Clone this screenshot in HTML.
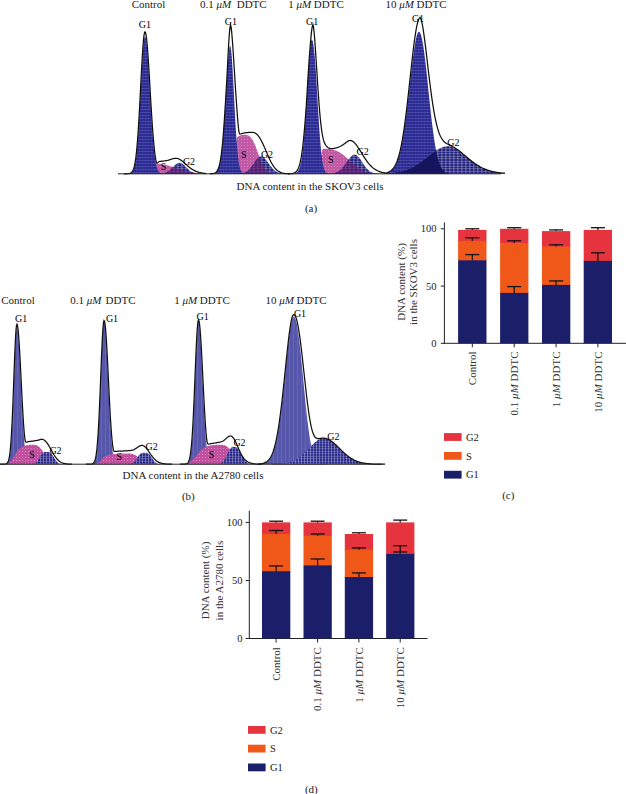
<!DOCTYPE html>
<html><head><meta charset="utf-8"><style>
html,body{margin:0;padding:0;background:#fff;width:626px;height:794px;overflow:hidden}
svg{display:block}
text{font-family:"Liberation Serif",serif;fill:#1a1a1a}
.lb{fill:#000}
.rt{fill:#333}
</style></head><body>
<svg width="626" height="794" viewBox="0 0 626 794">

<defs>
<pattern id="g1a" width="3" height="3" patternUnits="userSpaceOnUse">
  <rect width="3" height="3" fill="#282890"/>
  <rect y="1" width="3" height="0.7" fill="#6464bc" opacity="0.7"/>
  <rect x="1.5" width="0.6" height="3" fill="#5858b4" opacity="0.5"/>
</pattern>
<pattern id="g2a" width="4" height="2.5" patternUnits="userSpaceOnUse">
  <rect width="4" height="2.5" fill="#1e1e7a"/>
  <rect y="1" width="4" height="0.6" fill="#d8d8f0" opacity="0.55"/>
  <rect x="1.5" width="0.8" height="2.5" fill="#d8d8f0" opacity="0.55"/>
</pattern>
<pattern id="sa" width="3" height="3" patternUnits="userSpaceOnUse">
  <rect width="3" height="3" fill="#c05aa4"/>
  <rect x="1" y="1" width="1" height="1" fill="#e4a0d4" opacity="0.6"/>
</pattern>
<pattern id="ov1a" width="4" height="4" patternUnits="userSpaceOnUse">
  <rect width="4" height="4" fill="#15155e"/>
</pattern>
<pattern id="ov2a" width="4" height="2.5" patternUnits="userSpaceOnUse">
  <rect width="4" height="2.5" fill="#4e1c70"/>
  <rect y="1" width="4" height="0.6" fill="#a060b0" opacity="0.5"/>
  <rect x="1.5" width="0.8" height="2.5" fill="#a060b0" opacity="0.5"/>
</pattern>
<pattern id="g1b" width="4" height="4" patternUnits="userSpaceOnUse">
  <rect width="4" height="4" fill="#5656aa"/>
  <rect x="1" width="1" height="4" fill="#6c6cba" opacity="0.7"/>
</pattern>
<pattern id="g2b" width="3" height="2.5" patternUnits="userSpaceOnUse">
  <rect width="3" height="2.5" fill="#28288a"/>
  <rect y="1" width="3" height="0.6" fill="#dcdcf4" opacity="0.42"/>
  <rect x="1" width="0.7" height="2.5" fill="#dcdcf4" opacity="0.5"/>
</pattern>
<pattern id="sb" width="3" height="3" patternUnits="userSpaceOnUse">
  <rect width="3" height="3" fill="#c0509e"/>
  <rect x="1" y="1" width="1" height="1" fill="#e8a8d8" opacity="0.6"/>
</pattern>
<pattern id="ov1b" width="3" height="2.5" patternUnits="userSpaceOnUse">
  <rect width="3" height="2.5" fill="#2a2a8e"/>
  <rect y="1" width="3" height="0.6" fill="#dcdcf4" opacity="0.5"/>
  <rect x="1" width="0.7" height="2.5" fill="#dcdcf4" opacity="0.55"/>
</pattern>
</defs>

<rect width="626" height="794" fill="#fff"/>
<path d="M124 173.8L124 173.8L124.5 173.8L125 173.8L125.5 173.8L126 173.8L126.5 173.8L127 173.8L127.5 173.8L128 173.8L128.5 173.8L129 173.8L129.5 173.8L130 173.8L130.5 173.8L131 173.8L131.5 173.8L132 173.8L132.5 173.8L133 173.8L133.5 173.8L134 173.8L134.5 173.8L135 173.8L135.5 173.8L136 173.8L136.5 173.8L137 173.8L137.5 173.8L138 173.8L138.5 173.8L139 173.8L139.5 173.8L140 173.8L140.5 173.8L141 173.8L141.5 173.8L142 173.8L142.5 173.8L143 173.8L143.5 173.8L144 173.8L144.5 173.8L145 173.8L145.5 173.8L146 173.8L146.5 173.8L147 173.8L147.5 173.8L148 173.8L148.5 173.8L149 173.8L149.5 173.8L150 173.8L150.5 173.8L151 173.8L151.5 173.8L152 173.8L152.5 173.8L153 173.7L153.5 173.6L154 173L154.5 171.6L155 168.8L155.5 166L156 164.6L156.5 164L157 163.9L157.5 163.8L158 163.8L158.5 163.8L159 163.9L159.5 163.9L160 163.9L160.5 164L161 164L161.5 164.1L162 164.2L162.5 164.3L163 164.3L163.5 164.4L164 164.5L164.5 164.6L165 164.7L165.5 164.9L166 165L166.5 165.1L167 165.2L167.5 165.4L168 165.5L168.5 165.6L169 165.8L169.5 165.9L170 166.1L170.5 166.3L171 166.4L171.5 166.6L172 166.7L172.5 166.9L173 167.1L173.5 167.2L174 167.4L174.5 167.6L175 167.7L175.5 167.9L176 168.1L176.5 168.2L177 168.4L177.5 168.6L178 168.7L178.5 168.9L179 169.1L179.5 169.2L180 169.4L180.5 169.5L181 169.7L181.5 169.8L182 170L182.5 170.1L183 170.3L183.5 170.4L184 170.6L184.5 170.7L185 170.8L185.5 170.9L186 171.1L186.5 171.2L187 171.3L187.5 171.4L188 171.5L188.5 171.6L189 171.7L189.5 171.8L190 171.9L190.5 172L191 172.1L191.5 172.2L192 172.3L192.5 172.4L193 172.4L193.5 172.5L194 172.6L194.5 172.7L195 172.7L195.5 172.8L196 172.8L196.5 172.9L197 173L197.5 173L198 173.1L198.5 173.1L199 173.1L199.5 173.2L200 173.2L200.5 173.3L201 173.3L201.5 173.3L202 173.4L202.5 173.4L203 173.4L203.5 173.4L204 173.5L204.5 173.5L205 173.5L205.5 173.5L206 173.6L206 173.8Z" fill="url(#sa)"/>
<path d="M124 173.8L124 173.8L124.5 173.8L125 173.8L125.5 173.8L126 173.8L126.5 173.8L127 173.8L127.5 173.8L128 173.7L128.5 173.7L129 173.7L129.5 173.6L130 173.5L130.5 173.3L131 173.1L131.5 172.8L132 172.4L132.5 171.8L133 171L133.5 170L134 168.6L134.5 166.8L135 164.6L135.5 161.8L136 158.4L136.5 154.3L137 149.4L137.5 143.8L138 137.3L138.5 129.9L139 121.9L139.5 113.1L140 103.9L140.5 94.3L141 84.6L141.5 75.1L142 66L142.5 57.7L143 50.4L143.5 44.4L144 40L144.5 37.2L145 36.3L145.5 37L146 39.3L146.5 42.9L147 47.7L147.5 53.7L148 60.7L148.5 68.4L149 76.6L149.5 85.2L150 93.9L150.5 102.5L151 110.8L151.5 118.8L152 126.3L152.5 133.2L153 139.5L153.5 145.1L154 150.1L154.5 154.4L155 158.1L155.5 161.2L156 163.8L156.5 166L157 167.8L157.5 169.2L158 170.3L158.5 171.2L159 171.8L159.5 172.4L160 172.8L160.5 173.1L161 173.3L161.5 173.4L162 173.5L162.5 173.6L163 173.7L163.5 173.7L164 173.7L164.5 173.8L165 173.8L165.5 173.8L166 173.8L166.5 173.8L167 173.8L167.5 173.8L168 173.8L168.5 173.8L169 173.8L169.5 173.8L170 173.8L170.5 173.8L171 173.8L171.5 173.8L172 173.8L172.5 173.8L173 173.8L173.5 173.8L174 173.8L174.5 173.8L175 173.8L175.5 173.8L176 173.8L176.5 173.8L177 173.8L177.5 173.8L178 173.8L178.5 173.8L179 173.8L179.5 173.8L180 173.8L180.5 173.8L181 173.8L181.5 173.8L182 173.8L182.5 173.8L183 173.8L183.5 173.8L184 173.8L184.5 173.8L185 173.8L185.5 173.8L186 173.8L186.5 173.8L187 173.8L187.5 173.8L188 173.8L188.5 173.8L189 173.8L189.5 173.8L190 173.8L190.5 173.8L191 173.8L191.5 173.8L192 173.8L192.5 173.8L193 173.8L193.5 173.8L194 173.8L194.5 173.8L195 173.8L195.5 173.8L196 173.8L196.5 173.8L197 173.8L197.5 173.8L198 173.8L198.5 173.8L199 173.8L199.5 173.8L200 173.8L200.5 173.8L201 173.8L201.5 173.8L202 173.8L202.5 173.8L203 173.8L203.5 173.8L204 173.8L204.5 173.8L205 173.8L205.5 173.8L206 173.8L206 173.8Z" fill="url(#g1a)"/>
<path d="M124 173.8L124 173.8L124.5 173.8L125 173.8L125.5 173.8L126 173.8L126.5 173.8L127 173.8L127.5 173.8L128 173.8L128.5 173.8L129 173.8L129.5 173.8L130 173.8L130.5 173.8L131 173.8L131.5 173.8L132 173.8L132.5 173.8L133 173.8L133.5 173.8L134 173.8L134.5 173.8L135 173.8L135.5 173.8L136 173.8L136.5 173.8L137 173.8L137.5 173.8L138 173.8L138.5 173.8L139 173.8L139.5 173.8L140 173.8L140.5 173.8L141 173.8L141.5 173.8L142 173.8L142.5 173.8L143 173.8L143.5 173.8L144 173.8L144.5 173.8L145 173.8L145.5 173.8L146 173.8L146.5 173.8L147 173.8L147.5 173.8L148 173.8L148.5 173.8L149 173.8L149.5 173.8L150 173.8L150.5 173.8L151 173.8L151.5 173.8L152 173.8L152.5 173.8L153 173.8L153.5 173.8L154 173.8L154.5 173.8L155 173.8L155.5 173.8L156 173.8L156.5 173.8L157 173.8L157.5 173.8L158 173.8L158.5 173.7L159 173.7L159.5 173.7L160 173.7L160.5 173.6L161 173.6L161.5 173.6L162 173.5L162.5 173.4L163 173.4L163.5 173.3L164 173.2L164.5 173L165 172.9L165.5 172.7L166 172.5L166.5 172.3L167 172.1L167.5 171.8L168 171.5L168.5 171.2L169 170.8L169.5 170.4L170 170L170.5 169.6L171 169.1L171.5 168.6L172 168.1L172.5 167.6L173 167.1L173.5 166.6L174 166.1L174.5 165.6L175 165.1L175.5 164.7L176 164.3L176.5 163.9L177 163.6L177.5 163.3L178 163.1L178.5 162.9L179 162.8L179.5 162.8L180 162.8L180.5 162.9L181 163.1L181.5 163.3L182 163.6L182.5 163.9L183 164.3L183.5 164.7L184 165.1L184.5 165.6L185 166.1L185.5 166.6L186 167.1L186.5 167.6L187 168.1L187.5 168.6L188 169.1L188.5 169.6L189 170L189.5 170.4L190 170.8L190.5 171.2L191 171.5L191.5 171.8L192 172.1L192.5 172.3L193 172.5L193.5 172.7L194 172.9L194.5 173L195 173.2L195.5 173.3L196 173.4L196.5 173.4L197 173.5L197.5 173.6L198 173.6L198.5 173.6L199 173.7L199.5 173.7L200 173.7L200.5 173.7L201 173.8L201.5 173.8L202 173.8L202.5 173.8L203 173.8L203.5 173.8L204 173.8L204.5 173.8L205 173.8L205.5 173.8L206 173.8L206 173.8Z" fill="url(#g2a)"/>
<path d="M124 173.8L124 173.8L124.5 173.8L125 173.8L125.5 173.8L126 173.8L126.5 173.8L127 173.8L127.5 173.8L128 173.8L128.5 173.8L129 173.8L129.5 173.8L130 173.8L130.5 173.8L131 173.8L131.5 173.8L132 173.8L132.5 173.8L133 173.8L133.5 173.8L134 173.8L134.5 173.8L135 173.8L135.5 173.8L136 173.8L136.5 173.8L137 173.8L137.5 173.8L138 173.8L138.5 173.8L139 173.8L139.5 173.8L140 173.8L140.5 173.8L141 173.8L141.5 173.8L142 173.8L142.5 173.8L143 173.8L143.5 173.8L144 173.8L144.5 173.8L145 173.8L145.5 173.8L146 173.8L146.5 173.8L147 173.8L147.5 173.8L148 173.8L148.5 173.8L149 173.8L149.5 173.8L150 173.8L150.5 173.8L151 173.8L151.5 173.8L152 173.8L152.5 173.8L153 173.8L153.5 173.8L154 173.8L154.5 173.8L155 173.8L155.5 173.8L156 173.8L156.5 173.8L157 173.8L157.5 173.8L158 173.8L158.5 173.7L159 173.7L159.5 173.7L160 173.7L160.5 173.6L161 173.6L161.5 173.6L162 173.5L162.5 173.6L163 173.7L163.5 173.7L164 173.7L164.5 173.8L165 173.8L165.5 173.8L166 173.8L166.5 173.8L167 173.8L167.5 173.8L168 173.8L168.5 173.8L169 173.8L169.5 173.8L170 173.8L170.5 173.8L171 173.8L171.5 173.8L172 173.8L172.5 173.8L173 173.8L173.5 173.8L174 173.8L174.5 173.8L175 173.8L175.5 173.8L176 173.8L176.5 173.8L177 173.8L177.5 173.8L178 173.8L178.5 173.8L179 173.8L179.5 173.8L180 173.8L180.5 173.8L181 173.8L181.5 173.8L182 173.8L182.5 173.8L183 173.8L183.5 173.8L184 173.8L184.5 173.8L185 173.8L185.5 173.8L186 173.8L186.5 173.8L187 173.8L187.5 173.8L188 173.8L188.5 173.8L189 173.8L189.5 173.8L190 173.8L190.5 173.8L191 173.8L191.5 173.8L192 173.8L192.5 173.8L193 173.8L193.5 173.8L194 173.8L194.5 173.8L195 173.8L195.5 173.8L196 173.8L196.5 173.8L197 173.8L197.5 173.8L198 173.8L198.5 173.8L199 173.8L199.5 173.8L200 173.8L200.5 173.8L201 173.8L201.5 173.8L202 173.8L202.5 173.8L203 173.8L203.5 173.8L204 173.8L204.5 173.8L205 173.8L205.5 173.8L206 173.8L206 173.8Z" fill="url(#ov1a)"/>
<path d="M124 173.8L124 173.8L124.5 173.8L125 173.8L125.5 173.8L126 173.8L126.5 173.8L127 173.8L127.5 173.8L128 173.8L128.5 173.8L129 173.8L129.5 173.8L130 173.8L130.5 173.8L131 173.8L131.5 173.8L132 173.8L132.5 173.8L133 173.8L133.5 173.8L134 173.8L134.5 173.8L135 173.8L135.5 173.8L136 173.8L136.5 173.8L137 173.8L137.5 173.8L138 173.8L138.5 173.8L139 173.8L139.5 173.8L140 173.8L140.5 173.8L141 173.8L141.5 173.8L142 173.8L142.5 173.8L143 173.8L143.5 173.8L144 173.8L144.5 173.8L145 173.8L145.5 173.8L146 173.8L146.5 173.8L147 173.8L147.5 173.8L148 173.8L148.5 173.8L149 173.8L149.5 173.8L150 173.8L150.5 173.8L151 173.8L151.5 173.8L152 173.8L152.5 173.8L153 173.8L153.5 173.8L154 173.8L154.5 173.8L155 173.8L155.5 173.8L156 173.8L156.5 173.8L157 173.8L157.5 173.8L158 173.8L158.5 173.7L159 173.7L159.5 173.7L160 173.7L160.5 173.6L161 173.6L161.5 173.6L162 173.5L162.5 173.4L163 173.4L163.5 173.3L164 173.2L164.5 173L165 172.9L165.5 172.7L166 172.5L166.5 172.3L167 172.1L167.5 171.8L168 171.5L168.5 171.2L169 170.8L169.5 170.4L170 170L170.5 169.6L171 169.1L171.5 168.6L172 168.1L172.5 167.6L173 167.1L173.5 167.2L174 167.4L174.5 167.6L175 167.7L175.5 167.9L176 168.1L176.5 168.2L177 168.4L177.5 168.6L178 168.7L178.5 168.9L179 169.1L179.5 169.2L180 169.4L180.5 169.5L181 169.7L181.5 169.8L182 170L182.5 170.1L183 170.3L183.5 170.4L184 170.6L184.5 170.7L185 170.8L185.5 170.9L186 171.1L186.5 171.2L187 171.3L187.5 171.4L188 171.5L188.5 171.6L189 171.7L189.5 171.8L190 171.9L190.5 172L191 172.1L191.5 172.2L192 172.3L192.5 172.4L193 172.5L193.5 172.7L194 172.9L194.5 173L195 173.2L195.5 173.3L196 173.4L196.5 173.4L197 173.5L197.5 173.6L198 173.6L198.5 173.6L199 173.7L199.5 173.7L200 173.7L200.5 173.7L201 173.8L201.5 173.8L202 173.8L202.5 173.8L203 173.8L203.5 173.8L204 173.8L204.5 173.8L205 173.8L205.5 173.8L206 173.8L206 173.8Z" fill="url(#ov2a)"/>
<path d="M124 173.8L124.5 173.8L125 173.8L125.5 173.8L126 173.8L126.5 173.8L127 173.8L127.5 173.7L128 173.7L128.5 173.7L129 173.6L129.5 173.5L130 173.4L130.5 173.2L131 172.9L131.5 172.5L132 172L132.5 171.3L133 170.4L133.5 169.1L134 167.6L134.5 165.6L135 163.1L135.5 160L136 156.3L136.5 151.8L137 146.6L137.5 140.6L138 133.7L138.5 126.1L139 117.8L139.5 108.8L140 99.3L140.5 89.6L141 79.9L141.5 70.3L142 61.3L142.5 53L143 45.7L143.5 39.8L144 35.4L144.5 32.7L145 31.8L145.5 32.5L146 34.6L146.5 38L147 42.7L147.5 48.5L148 55.2L148.5 62.7L149 70.7L149.5 79.1L150 87.7L150.5 96.3L151 104.7L151.5 112.8L152 120.5L152.5 127.7L153 134.3L153.5 140.3L154 145.7L154.5 150.4L155 154.6L155.5 158.1L156 161L156.5 162.9L157 163.3L157.5 162.9L158 162.4L158.5 162L159 161.7L159.5 161.5L160 161.4L160.5 161.3L161 161.3L161.5 161.2L162 161.2L162.5 161.1L163 161.1L163.5 161.1L164 161L164.5 160.9L165 160.9L165.5 160.8L166 160.7L166.5 160.6L167 160.5L167.5 160.4L168 160.3L168.5 160.1L169 160L169.5 159.8L170 159.6L170.5 159.5L171 159.3L171.5 159.2L172 159L172.5 158.8L173 158.7L173.5 158.6L174 158.5L174.5 158.4L175 158.3L175.5 158.3L176 158.3L176.5 158.3L177 158.4L177.5 158.5L178 158.6L178.5 158.8L179 159L179.5 159.3L180 159.6L180.5 159.9L181 160.2L181.5 160.5L182 160.9L182.5 161.3L183 161.7L183.5 162.2L184 162.6L184.5 163L185 163.5L185.5 163.9L186 164.4L186.5 164.9L187 165.3L187.5 165.7L188 166.2L188.5 166.6L189 167L189.5 167.4L190 167.8L190.5 168.2L191 168.5L191.5 168.9L192 169.2L192.5 169.5L193 169.8L193.5 170.1L194 170.4L194.5 170.6L195 170.9L195.5 171.1L196 171.3L196.5 171.5L197 171.7L197.5 171.9L198 172.1L198.5 172.2L199 172.4L199.5 172.5L200 172.6L200.5 172.7L201 172.8L201.5 172.9L202 173L202.5 173.1L203 173.2L203.5 173.2L204 173.3L204.5 173.4L205 173.4L205.5 173.5L206 173.5" fill="none" stroke="#fff" stroke-width="2.2" stroke-opacity="0.0"/>
<path d="M124 173.8L124.5 173.8L125 173.8L125.5 173.8L126 173.8L126.5 173.8L127 173.8L127.5 173.7L128 173.7L128.5 173.7L129 173.6L129.5 173.5L130 173.4L130.5 173.2L131 172.9L131.5 172.5L132 172L132.5 171.3L133 170.4L133.5 169.1L134 167.6L134.5 165.6L135 163.1L135.5 160L136 156.3L136.5 151.8L137 146.6L137.5 140.6L138 133.7L138.5 126.1L139 117.8L139.5 108.8L140 99.3L140.5 89.6L141 79.9L141.5 70.3L142 61.3L142.5 53L143 45.7L143.5 39.8L144 35.4L144.5 32.7L145 31.8L145.5 32.5L146 34.6L146.5 38L147 42.7L147.5 48.5L148 55.2L148.5 62.7L149 70.7L149.5 79.1L150 87.7L150.5 96.3L151 104.7L151.5 112.8L152 120.5L152.5 127.7L153 134.3L153.5 140.3L154 145.7L154.5 150.4L155 154.6L155.5 158.1L156 161L156.5 162.9L157 163.3L157.5 162.9L158 162.4L158.5 162L159 161.7L159.5 161.5L160 161.4L160.5 161.3L161 161.3L161.5 161.2L162 161.2L162.5 161.1L163 161.1L163.5 161.1L164 161L164.5 160.9L165 160.9L165.5 160.8L166 160.7L166.5 160.6L167 160.5L167.5 160.4L168 160.3L168.5 160.1L169 160L169.5 159.8L170 159.6L170.5 159.5L171 159.3L171.5 159.2L172 159L172.5 158.8L173 158.7L173.5 158.6L174 158.5L174.5 158.4L175 158.3L175.5 158.3L176 158.3L176.5 158.3L177 158.4L177.5 158.5L178 158.6L178.5 158.8L179 159L179.5 159.3L180 159.6L180.5 159.9L181 160.2L181.5 160.5L182 160.9L182.5 161.3L183 161.7L183.5 162.2L184 162.6L184.5 163L185 163.5L185.5 163.9L186 164.4L186.5 164.9L187 165.3L187.5 165.7L188 166.2L188.5 166.6L189 167L189.5 167.4L190 167.8L190.5 168.2L191 168.5L191.5 168.9L192 169.2L192.5 169.5L193 169.8L193.5 170.1L194 170.4L194.5 170.6L195 170.9L195.5 171.1L196 171.3L196.5 171.5L197 171.7L197.5 171.9L198 172.1L198.5 172.2L199 172.4L199.5 172.5L200 172.6L200.5 172.7L201 172.8L201.5 172.9L202 173L202.5 173.1L203 173.2L203.5 173.2L204 173.3L204.5 173.4L205 173.4L205.5 173.5L206 173.5" fill="none" stroke="#111" stroke-width="1.25"/>
<path d="M210 173.8L210 173.8L210.5 173.8L211 173.8L211.5 173.8L212 173.8L212.5 173.8L213 173.8L213.5 173.8L214 173.8L214.5 173.8L215 173.8L215.5 173.8L216 173.8L216.5 173.8L217 173.8L217.5 173.8L218 173.8L218.5 173.8L219 173.8L219.5 173.8L220 173.8L220.5 173.8L221 173.8L221.5 173.8L222 173.8L222.5 173.8L223 173.8L223.5 173.8L224 173.8L224.5 173.8L225 173.8L225.5 173.8L226 173.8L226.5 173.8L227 173.8L227.5 173.8L228 173.8L228.5 173.8L229 173.8L229.5 173.8L230 173.8L230.5 173.8L231 173.8L231.5 173.8L232 173.8L232.5 173.8L233 173.8L233.5 173.8L234 173.7L234.5 173.3L235 171.5L235.5 164.2L236 150L236.5 140.7L237 137.8L237.5 136.9L238 136.5L238.5 136.3L239 136L239.5 135.8L240 135.6L240.5 135.4L241 135.2L241.5 135.1L242 135L242.5 134.9L243 134.8L243.5 134.8L244 134.8L244.5 134.8L245 134.8L245.5 134.8L246 134.9L246.5 134.9L247 135L247.5 135.2L248 135.4L248.5 135.6L249 135.9L249.5 136.2L250 136.7L250.5 137.2L251 137.7L251.5 138.4L252 139.1L252.5 139.9L253 140.8L253.5 141.7L254 142.7L254.5 143.8L255 145L255.5 146.2L256 147.5L256.5 148.8L257 150.1L257.5 151.5L258 152.9L258.5 154.3L259 155.7L259.5 157.1L260 158.4L260.5 159.8L261 161.1L261.5 162.3L262 163.5L262.5 164.6L263 165.6L263.5 166.6L264 167.5L264.5 168.3L265 169.1L265.5 169.7L266 170.3L266.5 170.9L267 171.4L267.5 171.8L268 172.1L268.5 172.4L269 172.7L269.5 172.9L270 173.1L270.5 173.2L271 173.4L271.5 173.5L272 173.5L272.5 173.6L273 173.6L273.5 173.7L274 173.7L274.5 173.7L275 173.8L275.5 173.8L276 173.8L276.5 173.8L277 173.8L277.5 173.8L278 173.8L278.5 173.8L279 173.8L279.5 173.8L280 173.8L280.5 173.8L281 173.8L281.5 173.8L282 173.8L282.5 173.8L283 173.8L283.5 173.8L284 173.8L284.5 173.8L285 173.8L285.5 173.8L286 173.8L286.5 173.8L287 173.8L287.5 173.8L288 173.8L288.5 173.8L289 173.8L289.5 173.8L290 173.8L290 173.8Z" fill="url(#sa)"/>
<path d="M210 173.8L210 173.8L210.5 173.8L211 173.7L211.5 173.7L212 173.7L212.5 173.6L213 173.6L213.5 173.5L214 173.3L214.5 173.2L215 173L215.5 172.7L216 172.3L216.5 171.8L217 171.2L217.5 170.4L218 169.4L218.5 168.1L219 166.6L219.5 164.7L220 162.4L220.5 159.7L221 156.5L221.5 152.8L222 148.5L222.5 143.5L223 138L223.5 131.8L224 125L224.5 117.7L225 109.8L225.5 101.7L226 93.3L226.5 84.9L227 76.6L227.5 68.8L228 61.6L228.5 55.3L229 50.3L229.5 46.9L230 45.5L230.5 46.5L231 49.4L231.5 54.2L232 60.6L232.5 68.3L233 77L233.5 86.3L234 96L234.5 105.7L235 115.1L235.5 123.9L236 132.1L236.5 139.5L237 146.1L237.5 151.7L238 156.4L238.5 160.4L239 163.6L239.5 166.2L240 168.2L240.5 169.7L241 170.9L241.5 171.7L242 172.4L242.5 172.8L243 173.1L243.5 173.4L244 173.5L244.5 173.6L245 173.7L245.5 173.7L246 173.8L246.5 173.8L247 173.8L247.5 173.8L248 173.8L248.5 173.8L249 173.8L249.5 173.8L250 173.8L250.5 173.8L251 173.8L251.5 173.8L252 173.8L252.5 173.8L253 173.8L253.5 173.8L254 173.8L254.5 173.8L255 173.8L255.5 173.8L256 173.8L256.5 173.8L257 173.8L257.5 173.8L258 173.8L258.5 173.8L259 173.8L259.5 173.8L260 173.8L260.5 173.8L261 173.8L261.5 173.8L262 173.8L262.5 173.8L263 173.8L263.5 173.8L264 173.8L264.5 173.8L265 173.8L265.5 173.8L266 173.8L266.5 173.8L267 173.8L267.5 173.8L268 173.8L268.5 173.8L269 173.8L269.5 173.8L270 173.8L270.5 173.8L271 173.8L271.5 173.8L272 173.8L272.5 173.8L273 173.8L273.5 173.8L274 173.8L274.5 173.8L275 173.8L275.5 173.8L276 173.8L276.5 173.8L277 173.8L277.5 173.8L278 173.8L278.5 173.8L279 173.8L279.5 173.8L280 173.8L280.5 173.8L281 173.8L281.5 173.8L282 173.8L282.5 173.8L283 173.8L283.5 173.8L284 173.8L284.5 173.8L285 173.8L285.5 173.8L286 173.8L286.5 173.8L287 173.8L287.5 173.8L288 173.8L288.5 173.8L289 173.8L289.5 173.8L290 173.8L290 173.8Z" fill="url(#g1a)"/>
<path d="M210 173.8L210 173.8L210.5 173.8L211 173.8L211.5 173.8L212 173.8L212.5 173.8L213 173.8L213.5 173.8L214 173.8L214.5 173.8L215 173.8L215.5 173.8L216 173.8L216.5 173.8L217 173.8L217.5 173.8L218 173.8L218.5 173.8L219 173.8L219.5 173.8L220 173.8L220.5 173.8L221 173.8L221.5 173.8L222 173.8L222.5 173.8L223 173.8L223.5 173.8L224 173.8L224.5 173.8L225 173.8L225.5 173.8L226 173.8L226.5 173.8L227 173.8L227.5 173.8L228 173.8L228.5 173.8L229 173.8L229.5 173.8L230 173.8L230.5 173.8L231 173.8L231.5 173.8L232 173.8L232.5 173.8L233 173.8L233.5 173.8L234 173.8L234.5 173.8L235 173.8L235.5 173.8L236 173.8L236.5 173.8L237 173.8L237.5 173.7L238 173.7L238.5 173.7L239 173.7L239.5 173.6L240 173.6L240.5 173.6L241 173.5L241.5 173.4L242 173.4L242.5 173.3L243 173.2L243.5 173L244 172.9L244.5 172.7L245 172.5L245.5 172.3L246 172L246.5 171.8L247 171.4L247.5 171.1L248 170.7L248.5 170.2L249 169.8L249.5 169.3L250 168.7L250.5 168.1L251 167.5L251.5 166.8L252 166.1L252.5 165.4L253 164.7L253.5 163.9L254 163.2L254.5 162.4L255 161.7L255.5 160.9L256 160.2L256.5 159.6L257 158.9L257.5 158.4L258 157.8L258.5 157.4L259 157L259.5 156.7L260 156.5L260.5 156.3L261 156.3L261.5 156.3L262 156.5L262.5 156.6L263 156.9L263.5 157.2L264 157.6L264.5 158.1L265 158.6L265.5 159.2L266 159.8L266.5 160.4L267 161.1L267.5 161.8L268 162.5L268.5 163.2L269 163.9L269.5 164.6L270 165.3L270.5 166L271 166.6L271.5 167.2L272 167.8L272.5 168.4L273 168.9L273.5 169.4L274 169.9L274.5 170.3L275 170.7L275.5 171.1L276 171.4L276.5 171.7L277 172L277.5 172.2L278 172.5L278.5 172.6L279 172.8L279.5 173L280 173.1L280.5 173.2L281 173.3L281.5 173.4L282 173.5L282.5 173.5L283 173.6L283.5 173.6L284 173.6L284.5 173.7L285 173.7L285.5 173.7L286 173.7L286.5 173.7L287 173.8L287.5 173.8L288 173.8L288.5 173.8L289 173.8L289.5 173.8L290 173.8L290 173.8Z" fill="url(#g2a)"/>
<path d="M210 173.8L210 173.8L210.5 173.8L211 173.8L211.5 173.8L212 173.8L212.5 173.8L213 173.8L213.5 173.8L214 173.8L214.5 173.8L215 173.8L215.5 173.8L216 173.8L216.5 173.8L217 173.8L217.5 173.8L218 173.8L218.5 173.8L219 173.8L219.5 173.8L220 173.8L220.5 173.8L221 173.8L221.5 173.8L222 173.8L222.5 173.8L223 173.8L223.5 173.8L224 173.8L224.5 173.8L225 173.8L225.5 173.8L226 173.8L226.5 173.8L227 173.8L227.5 173.8L228 173.8L228.5 173.8L229 173.8L229.5 173.8L230 173.8L230.5 173.8L231 173.8L231.5 173.8L232 173.8L232.5 173.8L233 173.8L233.5 173.8L234 173.8L234.5 173.8L235 173.8L235.5 173.8L236 173.8L236.5 173.8L237 173.8L237.5 173.7L238 173.7L238.5 173.7L239 173.7L239.5 173.6L240 173.6L240.5 173.6L241 173.5L241.5 173.4L242 173.4L242.5 173.3L243 173.2L243.5 173.4L244 173.5L244.5 173.6L245 173.7L245.5 173.7L246 173.8L246.5 173.8L247 173.8L247.5 173.8L248 173.8L248.5 173.8L249 173.8L249.5 173.8L250 173.8L250.5 173.8L251 173.8L251.5 173.8L252 173.8L252.5 173.8L253 173.8L253.5 173.8L254 173.8L254.5 173.8L255 173.8L255.5 173.8L256 173.8L256.5 173.8L257 173.8L257.5 173.8L258 173.8L258.5 173.8L259 173.8L259.5 173.8L260 173.8L260.5 173.8L261 173.8L261.5 173.8L262 173.8L262.5 173.8L263 173.8L263.5 173.8L264 173.8L264.5 173.8L265 173.8L265.5 173.8L266 173.8L266.5 173.8L267 173.8L267.5 173.8L268 173.8L268.5 173.8L269 173.8L269.5 173.8L270 173.8L270.5 173.8L271 173.8L271.5 173.8L272 173.8L272.5 173.8L273 173.8L273.5 173.8L274 173.8L274.5 173.8L275 173.8L275.5 173.8L276 173.8L276.5 173.8L277 173.8L277.5 173.8L278 173.8L278.5 173.8L279 173.8L279.5 173.8L280 173.8L280.5 173.8L281 173.8L281.5 173.8L282 173.8L282.5 173.8L283 173.8L283.5 173.8L284 173.8L284.5 173.8L285 173.8L285.5 173.8L286 173.8L286.5 173.8L287 173.8L287.5 173.8L288 173.8L288.5 173.8L289 173.8L289.5 173.8L290 173.8L290 173.8Z" fill="url(#ov1a)"/>
<path d="M210 173.8L210 173.8L210.5 173.8L211 173.8L211.5 173.8L212 173.8L212.5 173.8L213 173.8L213.5 173.8L214 173.8L214.5 173.8L215 173.8L215.5 173.8L216 173.8L216.5 173.8L217 173.8L217.5 173.8L218 173.8L218.5 173.8L219 173.8L219.5 173.8L220 173.8L220.5 173.8L221 173.8L221.5 173.8L222 173.8L222.5 173.8L223 173.8L223.5 173.8L224 173.8L224.5 173.8L225 173.8L225.5 173.8L226 173.8L226.5 173.8L227 173.8L227.5 173.8L228 173.8L228.5 173.8L229 173.8L229.5 173.8L230 173.8L230.5 173.8L231 173.8L231.5 173.8L232 173.8L232.5 173.8L233 173.8L233.5 173.8L234 173.8L234.5 173.8L235 173.8L235.5 173.8L236 173.8L236.5 173.8L237 173.8L237.5 173.7L238 173.7L238.5 173.7L239 173.7L239.5 173.6L240 173.6L240.5 173.6L241 173.5L241.5 173.4L242 173.4L242.5 173.3L243 173.2L243.5 173L244 172.9L244.5 172.7L245 172.5L245.5 172.3L246 172L246.5 171.8L247 171.4L247.5 171.1L248 170.7L248.5 170.2L249 169.8L249.5 169.3L250 168.7L250.5 168.1L251 167.5L251.5 166.8L252 166.1L252.5 165.4L253 164.7L253.5 163.9L254 163.2L254.5 162.4L255 161.7L255.5 160.9L256 160.2L256.5 159.6L257 158.9L257.5 158.4L258 157.8L258.5 157.4L259 157L259.5 157.1L260 158.4L260.5 159.8L261 161.1L261.5 162.3L262 163.5L262.5 164.6L263 165.6L263.5 166.6L264 167.5L264.5 168.3L265 169.1L265.5 169.7L266 170.3L266.5 170.9L267 171.4L267.5 171.8L268 172.1L268.5 172.4L269 172.7L269.5 172.9L270 173.1L270.5 173.2L271 173.4L271.5 173.5L272 173.5L272.5 173.6L273 173.6L273.5 173.7L274 173.7L274.5 173.7L275 173.8L275.5 173.8L276 173.8L276.5 173.8L277 173.8L277.5 173.8L278 173.8L278.5 173.8L279 173.8L279.5 173.8L280 173.8L280.5 173.8L281 173.8L281.5 173.8L282 173.8L282.5 173.8L283 173.8L283.5 173.8L284 173.8L284.5 173.8L285 173.8L285.5 173.8L286 173.8L286.5 173.8L287 173.8L287.5 173.8L288 173.8L288.5 173.8L289 173.8L289.5 173.8L290 173.8L290 173.8Z" fill="url(#ov2a)"/>
<path d="M210 173.8L210.5 173.8L211 173.7L211.5 173.7L212 173.7L212.5 173.6L213 173.6L213.5 173.5L214 173.3L214.5 173.2L215 173L215.5 172.7L216 172.3L216.5 171.8L217 171.2L217.5 170.4L218 169.4L218.5 168.1L219 166.6L219.5 164.7L220 162.4L220.5 159.7L221 156.5L221.5 152.8L222 148.5L222.5 143.5L223 138L223.5 131.8L224 125L224.5 117.7L225 109.8L225.5 101.7L226 93.3L226.5 84.9L227 76.3L227.5 66L228 56.1L228.5 47L229 38.8L229.5 32.2L230 27.4L230.5 25L231 26.4L231.5 30.3L232 35.7L232.5 42.1L233 49.2L233.5 56.8L234 64.8L234.5 72.8L235 80.8L235.5 88.7L236 96.3L236.5 103.6L237 110.6L237.5 117.2L238 123.2L238.5 128.5L239 132.1L239.5 133.7L240 134.1L240.5 134L241 133.9L241.5 133.7L242 133.5L242.5 133.4L243 133.2L243.5 133.1L244 133L244.5 132.9L245 132.8L245.5 132.8L246 132.7L246.5 132.6L247 132.6L247.5 132.5L248 132.5L248.5 132.4L249 132.4L249.5 132.4L250 132.3L250.5 132.3L251 132.3L251.5 132.3L252 132.3L252.5 132.3L253 132.4L253.5 132.5L254 132.6L254.5 132.8L255 133L255.5 133.3L256 133.6L256.5 134L257 134.4L257.5 134.9L258 135.5L258.5 136.1L259 136.8L259.5 137.5L260 138.3L260.5 139.2L261 140.1L261.5 141L262 142L262.5 143L263 144.1L263.5 145.2L264 146.3L264.5 147.5L265 148.6L265.5 149.8L266 151L266.5 152.1L267 153.3L267.5 154.5L268 155.6L268.5 156.8L269 157.9L269.5 158.9L270 160L270.5 161L271 162L271.5 162.9L272 163.8L272.5 164.6L273 165.4L273.5 166.2L274 166.9L274.5 167.6L275 168.2L275.5 168.8L276 169.3L276.5 169.8L277 170.2L277.5 170.6L278 171L278.5 171.3L279 171.7L279.5 171.9L280 172.2L280.5 172.4L281 172.6L281.5 172.8L282 172.9L282.5 173L283 173.2L283.5 173.3L284 173.3L284.5 173.4L285 173.5L285.5 173.5L286 173.6L286.5 173.6L287 173.6L287.5 173.7L288 173.7L288.5 173.7L289 173.7L289.5 173.7L290 173.8" fill="none" stroke="#fff" stroke-width="2.2" stroke-opacity="0.0"/>
<path d="M210 173.8L210.5 173.8L211 173.7L211.5 173.7L212 173.7L212.5 173.6L213 173.6L213.5 173.5L214 173.3L214.5 173.2L215 173L215.5 172.7L216 172.3L216.5 171.8L217 171.2L217.5 170.4L218 169.4L218.5 168.1L219 166.6L219.5 164.7L220 162.4L220.5 159.7L221 156.5L221.5 152.8L222 148.5L222.5 143.5L223 138L223.5 131.8L224 125L224.5 117.7L225 109.8L225.5 101.7L226 93.3L226.5 84.9L227 76.3L227.5 66L228 56.1L228.5 47L229 38.8L229.5 32.2L230 27.4L230.5 25L231 26.4L231.5 30.3L232 35.7L232.5 42.1L233 49.2L233.5 56.8L234 64.8L234.5 72.8L235 80.8L235.5 88.7L236 96.3L236.5 103.6L237 110.6L237.5 117.2L238 123.2L238.5 128.5L239 132.1L239.5 133.7L240 134.1L240.5 134L241 133.9L241.5 133.7L242 133.5L242.5 133.4L243 133.2L243.5 133.1L244 133L244.5 132.9L245 132.8L245.5 132.8L246 132.7L246.5 132.6L247 132.6L247.5 132.5L248 132.5L248.5 132.4L249 132.4L249.5 132.4L250 132.3L250.5 132.3L251 132.3L251.5 132.3L252 132.3L252.5 132.3L253 132.4L253.5 132.5L254 132.6L254.5 132.8L255 133L255.5 133.3L256 133.6L256.5 134L257 134.4L257.5 134.9L258 135.5L258.5 136.1L259 136.8L259.5 137.5L260 138.3L260.5 139.2L261 140.1L261.5 141L262 142L262.5 143L263 144.1L263.5 145.2L264 146.3L264.5 147.5L265 148.6L265.5 149.8L266 151L266.5 152.1L267 153.3L267.5 154.5L268 155.6L268.5 156.8L269 157.9L269.5 158.9L270 160L270.5 161L271 162L271.5 162.9L272 163.8L272.5 164.6L273 165.4L273.5 166.2L274 166.9L274.5 167.6L275 168.2L275.5 168.8L276 169.3L276.5 169.8L277 170.2L277.5 170.6L278 171L278.5 171.3L279 171.7L279.5 171.9L280 172.2L280.5 172.4L281 172.6L281.5 172.8L282 172.9L282.5 173L283 173.2L283.5 173.3L284 173.3L284.5 173.4L285 173.5L285.5 173.5L286 173.6L286.5 173.6L287 173.6L287.5 173.7L288 173.7L288.5 173.7L289 173.7L289.5 173.7L290 173.8" fill="none" stroke="#111" stroke-width="1.25"/>
<path d="M288 173.8L288 173.8L288.5 173.8L289 173.8L289.5 173.8L290 173.8L290.5 173.8L291 173.8L291.5 173.8L292 173.8L292.5 173.8L293 173.8L293.5 173.8L294 173.8L294.5 173.8L295 173.8L295.5 173.8L296 173.8L296.5 173.8L297 173.8L297.5 173.8L298 173.8L298.5 173.8L299 173.8L299.5 173.8L300 173.8L300.5 173.8L301 173.8L301.5 173.8L302 173.8L302.5 173.8L303 173.8L303.5 173.8L304 173.8L304.5 173.8L305 173.8L305.5 173.8L306 173.8L306.5 173.8L307 173.8L307.5 173.8L308 173.8L308.5 173.8L309 173.8L309.5 173.8L310 173.8L310.5 173.8L311 173.8L311.5 173.8L312 173.8L312.5 173.8L313 173.8L313.5 173.8L314 173.8L314.5 173.8L315 173.8L315.5 173.8L316 173.8L316.5 173.8L317 173.8L317.5 173.8L318 173.8L318.5 173.8L319 173.6L319.5 173.2L320 171.9L320.5 168.2L321 161.3L321.5 154.4L322 150.7L322.5 149.4L323 149L323.5 148.8L324 148.8L324.5 148.8L325 148.8L325.5 148.8L326 148.8L326.5 148.8L327 148.9L327.5 148.9L328 148.9L328.5 148.9L329 149L329.5 149L330 149.1L330.5 149.2L331 149.2L331.5 149.3L332 149.4L332.5 149.5L333 149.6L333.5 149.8L334 149.9L334.5 150L335 150.2L335.5 150.4L336 150.6L336.5 150.8L337 151L337.5 151.2L338 151.5L338.5 151.7L339 152L339.5 152.3L340 152.6L340.5 152.9L341 153.2L341.5 153.6L342 153.9L342.5 154.3L343 154.7L343.5 155.1L344 155.5L344.5 155.9L345 156.3L345.5 156.7L346 157.2L346.5 157.6L347 158.1L347.5 158.5L348 159L348.5 159.5L349 159.9L349.5 160.4L350 160.9L350.5 161.4L351 161.8L351.5 162.3L352 162.8L352.5 163.2L353 163.7L353.5 164.2L354 164.6L354.5 165L355 165.5L355.5 165.9L356 166.3L356.5 166.7L357 167.1L357.5 167.5L358 167.9L358.5 168.2L359 168.6L359.5 168.9L360 169.2L360.5 169.5L361 169.8L361.5 170.1L362 170.4L362.5 170.6L363 170.9L363.5 171.1L364 171.3L364.5 171.5L365 171.7L365.5 171.9L366 172.1L366.5 172.2L367 172.4L367.5 172.5L368 172.6L368.5 172.7L369 172.8L369.5 172.9L370 173L370.5 173.1L371 173.2L371.5 173.3L372 173.3L372.5 173.4L373 173.4L373.5 173.5L374 173.5L374.5 173.5L375 173.6L375.5 173.6L376 173.6L376.5 173.7L377 173.7L377.5 173.7L378 173.7L378.5 173.7L379 173.7L379.5 173.7L380 173.8L380.5 173.8L381 173.8L381.5 173.8L382 173.8L382.5 173.8L383 173.8L383.5 173.8L384 173.8L384.5 173.8L385 173.8L385 173.8Z" fill="url(#sa)"/>
<path d="M288 173.8L288 173.8L288.5 173.8L289 173.8L289.5 173.8L290 173.8L290.5 173.8L291 173.8L291.5 173.8L292 173.7L292.5 173.7L293 173.7L293.5 173.6L294 173.5L294.5 173.4L295 173.3L295.5 173.1L296 172.9L296.5 172.6L297 172.2L297.5 171.7L298 171L298.5 170.2L299 169.1L299.5 167.9L300 166.3L300.5 164.4L301 162.1L301.5 159.4L302 156.2L302.5 152.5L303 148.2L303.5 143.4L304 137.9L304.5 131.8L305 125.2L305.5 118L306 110.4L306.5 102.3L307 94.1L307.5 85.7L308 77.4L308.5 69.4L309 61.8L309.5 55L310 49.1L310.5 44.5L311 41.2L311.5 39.7L312 39.8L312.5 40.6L313 42.5L313.5 45.3L314 49.2L314.5 54.1L315 60.1L315.5 66.8L316 74.3L316.5 82.3L317 90.7L317.5 99.2L318 107.7L318.5 116L319 123.9L319.5 131.3L320 138.1L320.5 144.2L321 149.7L321.5 154.4L322 158.4L322.5 161.8L323 164.5L323.5 166.8L324 168.6L324.5 170L325 171L325.5 171.8L326 172.4L326.5 172.8L327 173.2L327.5 173.4L328 173.5L328.5 173.6L329 173.7L329.5 173.7L330 173.8L330.5 173.8L331 173.8L331.5 173.8L332 173.8L332.5 173.8L333 173.8L333.5 173.8L334 173.8L334.5 173.8L335 173.8L335.5 173.8L336 173.8L336.5 173.8L337 173.8L337.5 173.8L338 173.8L338.5 173.8L339 173.8L339.5 173.8L340 173.8L340.5 173.8L341 173.8L341.5 173.8L342 173.8L342.5 173.8L343 173.8L343.5 173.8L344 173.8L344.5 173.8L345 173.8L345.5 173.8L346 173.8L346.5 173.8L347 173.8L347.5 173.8L348 173.8L348.5 173.8L349 173.8L349.5 173.8L350 173.8L350.5 173.8L351 173.8L351.5 173.8L352 173.8L352.5 173.8L353 173.8L353.5 173.8L354 173.8L354.5 173.8L355 173.8L355.5 173.8L356 173.8L356.5 173.8L357 173.8L357.5 173.8L358 173.8L358.5 173.8L359 173.8L359.5 173.8L360 173.8L360.5 173.8L361 173.8L361.5 173.8L362 173.8L362.5 173.8L363 173.8L363.5 173.8L364 173.8L364.5 173.8L365 173.8L365.5 173.8L366 173.8L366.5 173.8L367 173.8L367.5 173.8L368 173.8L368.5 173.8L369 173.8L369.5 173.8L370 173.8L370.5 173.8L371 173.8L371.5 173.8L372 173.8L372.5 173.8L373 173.8L373.5 173.8L374 173.8L374.5 173.8L375 173.8L375.5 173.8L376 173.8L376.5 173.8L377 173.8L377.5 173.8L378 173.8L378.5 173.8L379 173.8L379.5 173.8L380 173.8L380.5 173.8L381 173.8L381.5 173.8L382 173.8L382.5 173.8L383 173.8L383.5 173.8L384 173.8L384.5 173.8L385 173.8L385 173.8Z" fill="url(#g1a)"/>
<path d="M288 173.8L288 173.8L288.5 173.8L289 173.8L289.5 173.8L290 173.8L290.5 173.8L291 173.8L291.5 173.8L292 173.8L292.5 173.8L293 173.8L293.5 173.8L294 173.8L294.5 173.8L295 173.8L295.5 173.8L296 173.8L296.5 173.8L297 173.8L297.5 173.8L298 173.8L298.5 173.8L299 173.8L299.5 173.8L300 173.8L300.5 173.8L301 173.8L301.5 173.8L302 173.8L302.5 173.8L303 173.8L303.5 173.8L304 173.8L304.5 173.8L305 173.8L305.5 173.8L306 173.8L306.5 173.8L307 173.8L307.5 173.8L308 173.8L308.5 173.8L309 173.8L309.5 173.8L310 173.8L310.5 173.8L311 173.8L311.5 173.8L312 173.8L312.5 173.8L313 173.8L313.5 173.8L314 173.8L314.5 173.8L315 173.8L315.5 173.8L316 173.8L316.5 173.8L317 173.8L317.5 173.8L318 173.8L318.5 173.8L319 173.8L319.5 173.8L320 173.8L320.5 173.8L321 173.8L321.5 173.8L322 173.8L322.5 173.8L323 173.8L323.5 173.8L324 173.8L324.5 173.8L325 173.8L325.5 173.8L326 173.8L326.5 173.8L327 173.8L327.5 173.7L328 173.7L328.5 173.7L329 173.7L329.5 173.7L330 173.6L330.5 173.6L331 173.6L331.5 173.5L332 173.5L332.5 173.4L333 173.3L333.5 173.2L334 173.1L334.5 173L335 172.9L335.5 172.7L336 172.6L336.5 172.4L337 172.1L337.5 171.9L338 171.6L338.5 171.3L339 171L339.5 170.6L340 170.3L340.5 169.8L341 169.4L341.5 168.9L342 168.4L342.5 167.8L343 167.2L343.5 166.6L344 166L344.5 165.3L345 164.6L345.5 163.9L346 163.2L346.5 162.4L347 161.7L347.5 161L348 160.3L348.5 159.6L349 158.9L349.5 158.3L350 157.6L350.5 157.1L351 156.5L351.5 156.1L352 155.7L352.5 155.3L353 155L353.5 154.8L354 154.7L354.5 154.6L355 154.6L355.5 154.7L356 154.9L356.5 155.1L357 155.5L357.5 155.9L358 156.4L358.5 156.9L359 157.5L359.5 158.2L360 158.8L360.5 159.6L361 160.3L361.5 161.1L362 161.8L362.5 162.6L363 163.4L363.5 164.2L364 164.9L364.5 165.6L365 166.3L365.5 167L366 167.6L366.5 168.2L367 168.8L367.5 169.3L368 169.8L368.5 170.3L369 170.7L369.5 171.1L370 171.4L370.5 171.7L371 172L371.5 172.2L372 172.5L372.5 172.7L373 172.8L373.5 173L374 173.1L374.5 173.2L375 173.3L375.5 173.4L376 173.5L376.5 173.5L377 173.6L377.5 173.6L378 173.6L378.5 173.7L379 173.7L379.5 173.7L380 173.7L380.5 173.7L381 173.8L381.5 173.8L382 173.8L382.5 173.8L383 173.8L383.5 173.8L384 173.8L384.5 173.8L385 173.8L385 173.8Z" fill="url(#g2a)"/>
<path d="M288 173.8L288 173.8L288.5 173.8L289 173.8L289.5 173.8L290 173.8L290.5 173.8L291 173.8L291.5 173.8L292 173.8L292.5 173.8L293 173.8L293.5 173.8L294 173.8L294.5 173.8L295 173.8L295.5 173.8L296 173.8L296.5 173.8L297 173.8L297.5 173.8L298 173.8L298.5 173.8L299 173.8L299.5 173.8L300 173.8L300.5 173.8L301 173.8L301.5 173.8L302 173.8L302.5 173.8L303 173.8L303.5 173.8L304 173.8L304.5 173.8L305 173.8L305.5 173.8L306 173.8L306.5 173.8L307 173.8L307.5 173.8L308 173.8L308.5 173.8L309 173.8L309.5 173.8L310 173.8L310.5 173.8L311 173.8L311.5 173.8L312 173.8L312.5 173.8L313 173.8L313.5 173.8L314 173.8L314.5 173.8L315 173.8L315.5 173.8L316 173.8L316.5 173.8L317 173.8L317.5 173.8L318 173.8L318.5 173.8L319 173.8L319.5 173.8L320 173.8L320.5 173.8L321 173.8L321.5 173.8L322 173.8L322.5 173.8L323 173.8L323.5 173.8L324 173.8L324.5 173.8L325 173.8L325.5 173.8L326 173.8L326.5 173.8L327 173.8L327.5 173.7L328 173.7L328.5 173.7L329 173.7L329.5 173.7L330 173.8L330.5 173.8L331 173.8L331.5 173.8L332 173.8L332.5 173.8L333 173.8L333.5 173.8L334 173.8L334.5 173.8L335 173.8L335.5 173.8L336 173.8L336.5 173.8L337 173.8L337.5 173.8L338 173.8L338.5 173.8L339 173.8L339.5 173.8L340 173.8L340.5 173.8L341 173.8L341.5 173.8L342 173.8L342.5 173.8L343 173.8L343.5 173.8L344 173.8L344.5 173.8L345 173.8L345.5 173.8L346 173.8L346.5 173.8L347 173.8L347.5 173.8L348 173.8L348.5 173.8L349 173.8L349.5 173.8L350 173.8L350.5 173.8L351 173.8L351.5 173.8L352 173.8L352.5 173.8L353 173.8L353.5 173.8L354 173.8L354.5 173.8L355 173.8L355.5 173.8L356 173.8L356.5 173.8L357 173.8L357.5 173.8L358 173.8L358.5 173.8L359 173.8L359.5 173.8L360 173.8L360.5 173.8L361 173.8L361.5 173.8L362 173.8L362.5 173.8L363 173.8L363.5 173.8L364 173.8L364.5 173.8L365 173.8L365.5 173.8L366 173.8L366.5 173.8L367 173.8L367.5 173.8L368 173.8L368.5 173.8L369 173.8L369.5 173.8L370 173.8L370.5 173.8L371 173.8L371.5 173.8L372 173.8L372.5 173.8L373 173.8L373.5 173.8L374 173.8L374.5 173.8L375 173.8L375.5 173.8L376 173.8L376.5 173.8L377 173.8L377.5 173.8L378 173.8L378.5 173.8L379 173.8L379.5 173.8L380 173.8L380.5 173.8L381 173.8L381.5 173.8L382 173.8L382.5 173.8L383 173.8L383.5 173.8L384 173.8L384.5 173.8L385 173.8L385 173.8Z" fill="url(#ov1a)"/>
<path d="M288 173.8L288 173.8L288.5 173.8L289 173.8L289.5 173.8L290 173.8L290.5 173.8L291 173.8L291.5 173.8L292 173.8L292.5 173.8L293 173.8L293.5 173.8L294 173.8L294.5 173.8L295 173.8L295.5 173.8L296 173.8L296.5 173.8L297 173.8L297.5 173.8L298 173.8L298.5 173.8L299 173.8L299.5 173.8L300 173.8L300.5 173.8L301 173.8L301.5 173.8L302 173.8L302.5 173.8L303 173.8L303.5 173.8L304 173.8L304.5 173.8L305 173.8L305.5 173.8L306 173.8L306.5 173.8L307 173.8L307.5 173.8L308 173.8L308.5 173.8L309 173.8L309.5 173.8L310 173.8L310.5 173.8L311 173.8L311.5 173.8L312 173.8L312.5 173.8L313 173.8L313.5 173.8L314 173.8L314.5 173.8L315 173.8L315.5 173.8L316 173.8L316.5 173.8L317 173.8L317.5 173.8L318 173.8L318.5 173.8L319 173.8L319.5 173.8L320 173.8L320.5 173.8L321 173.8L321.5 173.8L322 173.8L322.5 173.8L323 173.8L323.5 173.8L324 173.8L324.5 173.8L325 173.8L325.5 173.8L326 173.8L326.5 173.8L327 173.8L327.5 173.7L328 173.7L328.5 173.7L329 173.7L329.5 173.7L330 173.6L330.5 173.6L331 173.6L331.5 173.5L332 173.5L332.5 173.4L333 173.3L333.5 173.2L334 173.1L334.5 173L335 172.9L335.5 172.7L336 172.6L336.5 172.4L337 172.1L337.5 171.9L338 171.6L338.5 171.3L339 171L339.5 170.6L340 170.3L340.5 169.8L341 169.4L341.5 168.9L342 168.4L342.5 167.8L343 167.2L343.5 166.6L344 166L344.5 165.3L345 164.6L345.5 163.9L346 163.2L346.5 162.4L347 161.7L347.5 161L348 160.3L348.5 159.6L349 159.9L349.5 160.4L350 160.9L350.5 161.4L351 161.8L351.5 162.3L352 162.8L352.5 163.2L353 163.7L353.5 164.2L354 164.6L354.5 165L355 165.5L355.5 165.9L356 166.3L356.5 166.7L357 167.1L357.5 167.5L358 167.9L358.5 168.2L359 168.6L359.5 168.9L360 169.2L360.5 169.5L361 169.8L361.5 170.1L362 170.4L362.5 170.6L363 170.9L363.5 171.1L364 171.3L364.5 171.5L365 171.7L365.5 171.9L366 172.1L366.5 172.2L367 172.4L367.5 172.5L368 172.6L368.5 172.7L369 172.8L369.5 172.9L370 173L370.5 173.1L371 173.2L371.5 173.3L372 173.3L372.5 173.4L373 173.4L373.5 173.5L374 173.5L374.5 173.5L375 173.6L375.5 173.6L376 173.6L376.5 173.7L377 173.7L377.5 173.7L378 173.7L378.5 173.7L379 173.7L379.5 173.7L380 173.8L380.5 173.8L381 173.8L381.5 173.8L382 173.8L382.5 173.8L383 173.8L383.5 173.8L384 173.8L384.5 173.8L385 173.8L385 173.8Z" fill="url(#ov2a)"/>
<path d="M288 173.8L288.5 173.8L289 173.8L289.5 173.7L290 173.7L290.5 173.7L291 173.7L291.5 173.6L292 173.5L292.5 173.5L293 173.4L293.5 173.2L294 173.1L294.5 172.8L295 172.6L295.5 172.2L296 171.8L296.5 171.3L297 170.7L297.5 169.9L298 169L298.5 167.8L299 166.5L299.5 164.9L300 163.1L300.5 160.9L301 158.4L301.5 155.5L302 152.2L302.5 148.5L303 144.3L303.5 139.6L304 134.5L304.5 128.9L305 122.8L305.5 116.2L306 109.3L306.5 102L307 94.1L307.5 85.7L308 77.4L308.5 69.4L309 61.8L309.5 55L310 48.7L310.5 42.3L311 36.6L311.5 31.9L312 28.2L312.5 25.8L313 24.8L313.5 26.9L314 31.2L314.5 36.8L315 43.4L315.5 50.6L316 58.2L316.5 66.1L317 73.9L317.5 81.7L318 89.3L318.5 96.5L319 103.3L319.5 109.7L320 115.4L320.5 120.6L321 125.2L321.5 129.2L322 132.7L322.5 135.5L323 137.9L323.5 139.9L324 141.5L324.5 142.9L325 143.9L325.5 144.8L326 145.6L326.5 146.2L327 146.7L327.5 147.2L328 147.6L328.5 147.9L329 148.1L329.5 148.3L330 148.4L330.5 148.5L331 148.6L331.5 148.6L332 148.7L332.5 148.6L333 148.6L333.5 148.5L334 148.4L334.5 148.4L335 148.2L335.5 148.1L336 148L336.5 147.9L337 147.7L337.5 147.5L338 147.4L338.5 147.2L339 147L339.5 146.8L340 146.5L340.5 146.3L341 146L341.5 145.7L342 145.4L342.5 145.1L343 144.8L343.5 144.5L344 144.1L344.5 143.7L345 143.4L345.5 143L346 142.6L346.5 142.2L347 141.9L347.5 141.5L348 141.2L348.5 140.9L349 140.7L349.5 140.5L350 140.5L350.5 140.4L351 140.5L351.5 140.7L352 140.9L352.5 141.2L353 141.5L353.5 141.9L354 142.3L354.5 142.8L355 143.4L355.5 143.9L356 144.5L356.5 145.2L357 145.8L357.5 146.5L358 147.3L358.5 148L359 148.8L359.5 149.6L360 150.4L360.5 151.2L361 152L361.5 152.8L362 153.6L362.5 154.5L363 155.3L363.5 156.1L364 156.9L364.5 157.7L365 158.4L365.5 159.2L366 159.9L366.5 160.6L367 161.3L367.5 162L368 162.6L368.5 163.3L369 163.9L369.5 164.4L370 165L370.5 165.5L371 166L371.5 166.5L372 167L372.5 167.4L373 167.9L373.5 168.3L374 168.6L374.5 169L375 169.3L375.5 169.6L376 169.9L376.5 170.2L377 170.5L377.5 170.7L378 171L378.5 171.2L379 171.4L379.5 171.6L380 171.8L380.5 171.9L381 172.1L381.5 172.2L382 172.4L382.5 172.5L383 172.6L383.5 172.7L384 172.8L384.5 172.9L385 173" fill="none" stroke="#fff" stroke-width="2.2" stroke-opacity="0.0"/>
<path d="M288 173.8L288.5 173.8L289 173.8L289.5 173.7L290 173.7L290.5 173.7L291 173.7L291.5 173.6L292 173.5L292.5 173.5L293 173.4L293.5 173.2L294 173.1L294.5 172.8L295 172.6L295.5 172.2L296 171.8L296.5 171.3L297 170.7L297.5 169.9L298 169L298.5 167.8L299 166.5L299.5 164.9L300 163.1L300.5 160.9L301 158.4L301.5 155.5L302 152.2L302.5 148.5L303 144.3L303.5 139.6L304 134.5L304.5 128.9L305 122.8L305.5 116.2L306 109.3L306.5 102L307 94.1L307.5 85.7L308 77.4L308.5 69.4L309 61.8L309.5 55L310 48.7L310.5 42.3L311 36.6L311.5 31.9L312 28.2L312.5 25.8L313 24.8L313.5 26.9L314 31.2L314.5 36.8L315 43.4L315.5 50.6L316 58.2L316.5 66.1L317 73.9L317.5 81.7L318 89.3L318.5 96.5L319 103.3L319.5 109.7L320 115.4L320.5 120.6L321 125.2L321.5 129.2L322 132.7L322.5 135.5L323 137.9L323.5 139.9L324 141.5L324.5 142.9L325 143.9L325.5 144.8L326 145.6L326.5 146.2L327 146.7L327.5 147.2L328 147.6L328.5 147.9L329 148.1L329.5 148.3L330 148.4L330.5 148.5L331 148.6L331.5 148.6L332 148.7L332.5 148.6L333 148.6L333.5 148.5L334 148.4L334.5 148.4L335 148.2L335.5 148.1L336 148L336.5 147.9L337 147.7L337.5 147.5L338 147.4L338.5 147.2L339 147L339.5 146.8L340 146.5L340.5 146.3L341 146L341.5 145.7L342 145.4L342.5 145.1L343 144.8L343.5 144.5L344 144.1L344.5 143.7L345 143.4L345.5 143L346 142.6L346.5 142.2L347 141.9L347.5 141.5L348 141.2L348.5 140.9L349 140.7L349.5 140.5L350 140.5L350.5 140.4L351 140.5L351.5 140.7L352 140.9L352.5 141.2L353 141.5L353.5 141.9L354 142.3L354.5 142.8L355 143.4L355.5 143.9L356 144.5L356.5 145.2L357 145.8L357.5 146.5L358 147.3L358.5 148L359 148.8L359.5 149.6L360 150.4L360.5 151.2L361 152L361.5 152.8L362 153.6L362.5 154.5L363 155.3L363.5 156.1L364 156.9L364.5 157.7L365 158.4L365.5 159.2L366 159.9L366.5 160.6L367 161.3L367.5 162L368 162.6L368.5 163.3L369 163.9L369.5 164.4L370 165L370.5 165.5L371 166L371.5 166.5L372 167L372.5 167.4L373 167.9L373.5 168.3L374 168.6L374.5 169L375 169.3L375.5 169.6L376 169.9L376.5 170.2L377 170.5L377.5 170.7L378 171L378.5 171.2L379 171.4L379.5 171.6L380 171.8L380.5 171.9L381 172.1L381.5 172.2L382 172.4L382.5 172.5L383 172.6L383.5 172.7L384 172.8L384.5 172.9L385 173" fill="none" stroke="#111" stroke-width="1.25"/>
<path d="M384 173.8L384 173.5L384.5 173.4L385 173.3L385.5 173.3L386 173.2L386.5 173.1L387 172.9L387.5 172.8L388 172.6L388.5 172.5L389 172.3L389.5 172L390 171.8L390.5 171.4L391 171.1L391.5 170.7L392 170.3L392.5 169.8L393 169.2L393.5 168.6L394 168L394.5 167.2L395 166.4L395.5 165.5L396 164.4L396.5 163.3L397 162.1L397.5 160.8L398 159.3L398.5 157.8L399 156.1L399.5 154.2L400 152.2L400.5 150.1L401 147.8L401.5 145.4L402 142.8L402.5 140.1L403 137.2L403.5 134.1L404 130.9L404.5 127.5L405 124L405.5 120.3L406 116.5L406.5 112.6L407 108.6L407.5 104.4L408 100.2L408.5 95.9L409 91.6L409.5 87.2L410 82.9L410.5 78.5L411 74.2L411.5 69.9L412 65.7L412.5 61.7L413 57.8L413.5 54L414 50.5L414.5 47.1L415 44.1L415.5 41.3L416 38.8L416.5 36.7L417 34.9L417.5 33.5L418 32.5L418.5 31.9L419 31.8L419.5 32.1L420 32.7L420.5 33.8L421 35.1L421.5 36.9L422 39L422.5 41.5L423 44.4L423.5 47.5L424 51L424.5 54.7L425 58.7L425.5 62.9L426 67.3L426.5 71.8L427 76.5L427.5 81.2L428 86L428.5 90.9L429 95.7L429.5 100.5L430 105.2L430.5 109.8L431 114.3L431.5 118.7L432 122.9L432.5 127L433 130.9L433.5 134.6L434 138.1L434.5 141.4L435 144.5L435.5 147.4L436 150.1L436.5 152.6L437 154.9L437.5 157L438 158.9L438.5 160.7L439 162.3L439.5 163.7L440 165L440.5 166.1L441 167.1L441.5 168L442 168.8L442.5 169.6L443 170.2L443.5 170.7L444 171.2L444.5 171.6L445 171.9L445.5 172.2L446 172.5L446.5 172.7L447 172.9L447.5 173.1L448 173.2L448.5 173.3L449 173.4L449.5 173.5L450 173.5L450.5 173.6L451 173.6L451.5 173.7L452 173.7L452.5 173.7L453 173.7L453.5 173.7L454 173.8L454.5 173.8L455 173.8L455.5 173.8L456 173.8L456.5 173.8L457 173.8L457.5 173.8L458 173.8L458.5 173.8L459 173.8L459.5 173.8L460 173.8L460.5 173.8L461 173.8L461.5 173.8L462 173.8L462.5 173.8L463 173.8L463.5 173.8L464 173.8L464.5 173.8L465 173.8L465.5 173.8L466 173.8L466.5 173.8L467 173.8L467.5 173.8L468 173.8L468.5 173.8L469 173.8L469.5 173.8L470 173.8L470.5 173.8L471 173.8L471.5 173.8L472 173.8L472.5 173.8L473 173.8L473.5 173.8L474 173.8L474.5 173.8L475 173.8L475.5 173.8L476 173.8L476.5 173.8L477 173.8L477.5 173.8L478 173.8L478.5 173.8L479 173.8L479.5 173.8L480 173.8L480.5 173.8L481 173.8L481.5 173.8L482 173.8L482.5 173.8L483 173.8L483.5 173.8L484 173.8L484.5 173.8L485 173.8L485.5 173.8L486 173.8L486.5 173.8L487 173.8L487.5 173.8L488 173.8L488.5 173.8L489 173.8L489.5 173.8L490 173.8L490.5 173.8L491 173.8L491.5 173.8L492 173.8L492.5 173.8L493 173.8L493.5 173.8L494 173.8L494.5 173.8L495 173.8L495.5 173.8L496 173.8L496.5 173.8L497 173.8L497.5 173.8L498 173.8L498.5 173.8L499 173.8L499.5 173.8L500 173.8L500.5 173.8L501 173.8L501.5 173.8L502 173.8L502.5 173.8L503 173.8L503.5 173.8L504 173.8L504.5 173.8L505 173.8L505 173.8Z" fill="url(#g1a)"/>
<path d="M384 173.8L384 173.6L384.5 173.5L385 173.5L385.5 173.5L386 173.5L386.5 173.5L387 173.4L387.5 173.4L388 173.4L388.5 173.3L389 173.3L389.5 173.3L390 173.2L390.5 173.2L391 173.2L391.5 173.1L392 173.1L392.5 173L393 173L393.5 172.9L394 172.9L394.5 172.8L395 172.7L395.5 172.7L396 172.6L396.5 172.5L397 172.4L397.5 172.4L398 172.3L398.5 172.2L399 172.1L399.5 172L400 171.9L400.5 171.8L401 171.7L401.5 171.6L402 171.4L402.5 171.3L403 171.2L403.5 171L404 170.9L404.5 170.7L405 170.6L405.5 170.4L406 170.3L406.5 170.1L407 169.9L407.5 169.7L408 169.5L408.5 169.3L409 169.1L409.5 168.9L410 168.7L410.5 168.5L411 168.2L411.5 168L412 167.7L412.5 167.5L413 167.2L413.5 166.9L414 166.7L414.5 166.4L415 166.1L415.5 165.8L416 165.5L416.5 165.2L417 164.9L417.5 164.5L418 164.2L418.5 163.9L419 163.5L419.5 163.2L420 162.8L420.5 162.5L421 162.1L421.5 161.8L422 161.4L422.5 161L423 160.6L423.5 160.2L424 159.9L424.5 159.5L425 159.1L425.5 158.7L426 158.3L426.5 157.9L427 157.5L427.5 157.1L428 156.7L428.5 156.3L429 155.9L429.5 155.5L430 155.1L430.5 154.7L431 154.3L431.5 153.9L432 153.5L432.5 153.2L433 152.8L433.5 152.4L434 152L434.5 151.7L435 151.3L435.5 151L436 150.7L436.5 150.3L437 150L437.5 149.7L438 149.4L438.5 149.1L439 148.8L439.5 148.6L440 148.3L440.5 148.1L441 147.9L441.5 147.6L442 147.4L442.5 147.2L443 147.1L443.5 146.9L444 146.8L444.5 146.6L445 146.5L445.5 146.4L446 146.3L446.5 146.2L447 146.2L447.5 146.1L448 146.1L448.5 146.1L449 146.1L449.5 146.2L450 146.2L450.5 146.3L451 146.5L451.5 146.6L452 146.8L452.5 147L453 147.2L453.5 147.4L454 147.6L454.5 147.9L455 148.2L455.5 148.5L456 148.8L456.5 149.1L457 149.4L457.5 149.7L458 150.1L458.5 150.4L459 150.8L459.5 151.2L460 151.6L460.5 152L461 152.3L461.5 152.7L462 153.2L462.5 153.6L463 154L463.5 154.4L464 154.8L464.5 155.2L465 155.7L465.5 156.1L466 156.5L466.5 156.9L467 157.3L467.5 157.8L468 158.2L468.5 158.6L469 159L469.5 159.4L470 159.8L470.5 160.2L471 160.6L471.5 161L472 161.4L472.5 161.8L473 162.1L473.5 162.5L474 162.9L474.5 163.2L475 163.6L475.5 163.9L476 164.3L476.5 164.6L477 164.9L477.5 165.2L478 165.5L478.5 165.8L479 166.1L479.5 166.4L480 166.7L480.5 167L481 167.2L481.5 167.5L482 167.7L482.5 168L483 168.2L483.5 168.5L484 168.7L484.5 168.9L485 169.1L485.5 169.3L486 169.5L486.5 169.7L487 169.9L487.5 170.1L488 170.2L488.5 170.4L489 170.5L489.5 170.7L490 170.8L490.5 171L491 171.1L491.5 171.3L492 171.4L492.5 171.5L493 171.6L493.5 171.7L494 171.8L494.5 171.9L495 172L495.5 172.1L496 172.2L496.5 172.3L497 172.4L497.5 172.5L498 172.5L498.5 172.6L499 172.7L499.5 172.7L500 172.8L500.5 172.8L501 172.9L501.5 172.9L502 173L502.5 173L503 173.1L503.5 173.1L504 173.2L504.5 173.2L505 173.2L505 173.8Z" fill="url(#g2a)"/>
<path d="M384 173.8L384 173.6L384.5 173.5L385 173.5L385.5 173.5L386 173.5L386.5 173.5L387 173.4L387.5 173.4L388 173.4L388.5 173.3L389 173.3L389.5 173.3L390 173.2L390.5 173.2L391 173.2L391.5 173.1L392 173.1L392.5 173L393 173L393.5 172.9L394 172.9L394.5 172.8L395 172.7L395.5 172.7L396 172.6L396.5 172.5L397 172.4L397.5 172.4L398 172.3L398.5 172.2L399 172.1L399.5 172L400 171.9L400.5 171.8L401 171.7L401.5 171.6L402 171.4L402.5 171.3L403 171.2L403.5 171L404 170.9L404.5 170.7L405 170.6L405.5 170.4L406 170.3L406.5 170.1L407 169.9L407.5 169.7L408 169.5L408.5 169.3L409 169.1L409.5 168.9L410 168.7L410.5 168.5L411 168.2L411.5 168L412 167.7L412.5 167.5L413 167.2L413.5 166.9L414 166.7L414.5 166.4L415 166.1L415.5 165.8L416 165.5L416.5 165.2L417 164.9L417.5 164.5L418 164.2L418.5 163.9L419 163.5L419.5 163.2L420 162.8L420.5 162.5L421 162.1L421.5 161.8L422 161.4L422.5 161L423 160.6L423.5 160.2L424 159.9L424.5 159.5L425 159.1L425.5 158.7L426 158.3L426.5 157.9L427 157.5L427.5 157.1L428 156.7L428.5 156.3L429 155.9L429.5 155.5L430 155.1L430.5 154.7L431 154.3L431.5 153.9L432 153.5L432.5 153.2L433 152.8L433.5 152.4L434 152L434.5 151.7L435 151.3L435.5 151L436 150.7L436.5 152.6L437 154.9L437.5 157L438 158.9L438.5 160.7L439 162.3L439.5 163.7L440 165L440.5 166.1L441 167.1L441.5 168L442 168.8L442.5 169.6L443 170.2L443.5 170.7L444 171.2L444.5 171.6L445 171.9L445.5 172.2L446 172.5L446.5 172.7L447 172.9L447.5 173.1L448 173.2L448.5 173.3L449 173.4L449.5 173.5L450 173.5L450.5 173.6L451 173.6L451.5 173.7L452 173.7L452.5 173.7L453 173.7L453.5 173.7L454 173.8L454.5 173.8L455 173.8L455.5 173.8L456 173.8L456.5 173.8L457 173.8L457.5 173.8L458 173.8L458.5 173.8L459 173.8L459.5 173.8L460 173.8L460.5 173.8L461 173.8L461.5 173.8L462 173.8L462.5 173.8L463 173.8L463.5 173.8L464 173.8L464.5 173.8L465 173.8L465.5 173.8L466 173.8L466.5 173.8L467 173.8L467.5 173.8L468 173.8L468.5 173.8L469 173.8L469.5 173.8L470 173.8L470.5 173.8L471 173.8L471.5 173.8L472 173.8L472.5 173.8L473 173.8L473.5 173.8L474 173.8L474.5 173.8L475 173.8L475.5 173.8L476 173.8L476.5 173.8L477 173.8L477.5 173.8L478 173.8L478.5 173.8L479 173.8L479.5 173.8L480 173.8L480.5 173.8L481 173.8L481.5 173.8L482 173.8L482.5 173.8L483 173.8L483.5 173.8L484 173.8L484.5 173.8L485 173.8L485.5 173.8L486 173.8L486.5 173.8L487 173.8L487.5 173.8L488 173.8L488.5 173.8L489 173.8L489.5 173.8L490 173.8L490.5 173.8L491 173.8L491.5 173.8L492 173.8L492.5 173.8L493 173.8L493.5 173.8L494 173.8L494.5 173.8L495 173.8L495.5 173.8L496 173.8L496.5 173.8L497 173.8L497.5 173.8L498 173.8L498.5 173.8L499 173.8L499.5 173.8L500 173.8L500.5 173.8L501 173.8L501.5 173.8L502 173.8L502.5 173.8L503 173.8L503.5 173.8L504 173.8L504.5 173.8L505 173.8L505 173.8Z" fill="url(#ov1a)"/>
<path d="M384 173.3L384.5 173.2L385 173.1L385.5 173L386 172.9L386.5 172.8L387 172.7L387.5 172.5L388 172.4L388.5 172.2L389 171.9L389.5 171.7L390 171.4L390.5 171.1L391 170.7L391.5 170.3L392 169.8L392.5 169.3L393 168.8L393.5 168.1L394 167.4L394.5 166.6L395 165.8L395.5 164.8L396 163.8L396.5 162.6L397 161.4L397.5 160L398 158.5L398.5 156.9L399 155.2L399.5 153.3L400 151.3L400.5 149.1L401 146.8L401.5 144.3L402 141.6L402.5 138.8L403 135.9L403.5 132.7L404 129.4L404.5 125.8L405 122.2L405.5 118.3L406 114.4L406.5 110.3L407 106.1L407.5 101.7L408 97.3L408.5 92.8L409 88.2L409.5 83.6L410 79L410.5 74.4L411 69.8L411.5 65.2L412 60.7L412.5 56.3L413 52L413.5 47.9L414 44L414.5 40.2L415 36.7L415.5 33.4L416 30.4L416.5 27.6L417 25.2L417.5 23L418 21.2L418.5 19.8L419 18.7L419.5 17.9L420 17.5L420.5 17.9L421 19L421.5 20.7L422 22.9L422.5 25.5L423 28.4L423.5 31.6L424 35.1L424.5 38.8L425 42.6L425.5 46.6L426 50.7L426.5 54.9L427 59.2L427.5 63.4L428 67.7L428.5 71.9L429 76.1L429.5 80.2L430 84.2L430.5 88.1L431 91.9L431.5 95.6L432 99.1L432.5 102.5L433 105.7L433.5 108.8L434 111.8L434.5 114.5L435 117.2L435.5 119.6L436 121.9L436.5 124.1L437 126.1L437.5 127.9L438 129.6L438.5 131.2L439 132.7L439.5 134L440 135.2L440.5 136.3L441 137.3L441.5 138.2L442 139L442.5 139.7L443 140.4L443.5 141L444 141.5L444.5 142L445 142.4L445.5 142.8L446 143.2L446.5 143.5L447 143.8L447.5 144L448 144.3L448.5 144.5L449 144.7L449.5 144.9L450 145.2L450.5 145.4L451 145.7L451.5 145.9L452 146.2L452.5 146.5L453 146.7L453.5 147L454 147.3L454.5 147.6L455 147.9L455.5 148.3L456 148.6L456.5 148.9L457 149.3L457.5 149.6L458 150L458.5 150.4L459 150.7L459.5 151.1L460 151.5L460.5 151.9L461 152.3L461.5 152.7L462 153.1L462.5 153.5L463 154L463.5 154.4L464 154.8L464.5 155.2L465 155.6L465.5 156.1L466 156.5L466.5 156.9L467 157.3L467.5 157.8L468 158.2L468.5 158.6L469 159L469.5 159.4L470 159.8L470.5 160.2L471 160.6L471.5 161L472 161.4L472.5 161.8L473 162.1L473.5 162.5L474 162.9L474.5 163.2L475 163.6L475.5 163.9L476 164.3L476.5 164.6L477 164.9L477.5 165.2L478 165.5L478.5 165.8L479 166.1L479.5 166.4L480 166.7L480.5 167L481 167.2L481.5 167.5L482 167.7L482.5 168L483 168.2L483.5 168.5L484 168.7L484.5 168.9L485 169.1L485.5 169.3L486 169.5L486.5 169.7L487 169.9L487.5 170.1L488 170.2L488.5 170.4L489 170.5L489.5 170.7L490 170.8L490.5 171L491 171.1L491.5 171.3L492 171.4L492.5 171.5L493 171.6L493.5 171.7L494 171.8L494.5 171.9L495 172L495.5 172.1L496 172.2L496.5 172.3L497 172.4L497.5 172.5L498 172.5L498.5 172.6L499 172.7L499.5 172.7L500 172.8L500.5 172.8L501 172.9L501.5 172.9L502 173L502.5 173L503 173.1L503.5 173.1L504 173.2L504.5 173.2L505 173.2" fill="none" stroke="#fff" stroke-width="2.2" stroke-opacity="0.0"/>
<path d="M384 173.3L384.5 173.2L385 173.1L385.5 173L386 172.9L386.5 172.8L387 172.7L387.5 172.5L388 172.4L388.5 172.2L389 171.9L389.5 171.7L390 171.4L390.5 171.1L391 170.7L391.5 170.3L392 169.8L392.5 169.3L393 168.8L393.5 168.1L394 167.4L394.5 166.6L395 165.8L395.5 164.8L396 163.8L396.5 162.6L397 161.4L397.5 160L398 158.5L398.5 156.9L399 155.2L399.5 153.3L400 151.3L400.5 149.1L401 146.8L401.5 144.3L402 141.6L402.5 138.8L403 135.9L403.5 132.7L404 129.4L404.5 125.8L405 122.2L405.5 118.3L406 114.4L406.5 110.3L407 106.1L407.5 101.7L408 97.3L408.5 92.8L409 88.2L409.5 83.6L410 79L410.5 74.4L411 69.8L411.5 65.2L412 60.7L412.5 56.3L413 52L413.5 47.9L414 44L414.5 40.2L415 36.7L415.5 33.4L416 30.4L416.5 27.6L417 25.2L417.5 23L418 21.2L418.5 19.8L419 18.7L419.5 17.9L420 17.5L420.5 17.9L421 19L421.5 20.7L422 22.9L422.5 25.5L423 28.4L423.5 31.6L424 35.1L424.5 38.8L425 42.6L425.5 46.6L426 50.7L426.5 54.9L427 59.2L427.5 63.4L428 67.7L428.5 71.9L429 76.1L429.5 80.2L430 84.2L430.5 88.1L431 91.9L431.5 95.6L432 99.1L432.5 102.5L433 105.7L433.5 108.8L434 111.8L434.5 114.5L435 117.2L435.5 119.6L436 121.9L436.5 124.1L437 126.1L437.5 127.9L438 129.6L438.5 131.2L439 132.7L439.5 134L440 135.2L440.5 136.3L441 137.3L441.5 138.2L442 139L442.5 139.7L443 140.4L443.5 141L444 141.5L444.5 142L445 142.4L445.5 142.8L446 143.2L446.5 143.5L447 143.8L447.5 144L448 144.3L448.5 144.5L449 144.7L449.5 144.9L450 145.2L450.5 145.4L451 145.7L451.5 145.9L452 146.2L452.5 146.5L453 146.7L453.5 147L454 147.3L454.5 147.6L455 147.9L455.5 148.3L456 148.6L456.5 148.9L457 149.3L457.5 149.6L458 150L458.5 150.4L459 150.7L459.5 151.1L460 151.5L460.5 151.9L461 152.3L461.5 152.7L462 153.1L462.5 153.5L463 154L463.5 154.4L464 154.8L464.5 155.2L465 155.6L465.5 156.1L466 156.5L466.5 156.9L467 157.3L467.5 157.8L468 158.2L468.5 158.6L469 159L469.5 159.4L470 159.8L470.5 160.2L471 160.6L471.5 161L472 161.4L472.5 161.8L473 162.1L473.5 162.5L474 162.9L474.5 163.2L475 163.6L475.5 163.9L476 164.3L476.5 164.6L477 164.9L477.5 165.2L478 165.5L478.5 165.8L479 166.1L479.5 166.4L480 166.7L480.5 167L481 167.2L481.5 167.5L482 167.7L482.5 168L483 168.2L483.5 168.5L484 168.7L484.5 168.9L485 169.1L485.5 169.3L486 169.5L486.5 169.7L487 169.9L487.5 170.1L488 170.2L488.5 170.4L489 170.5L489.5 170.7L490 170.8L490.5 171L491 171.1L491.5 171.3L492 171.4L492.5 171.5L493 171.6L493.5 171.7L494 171.8L494.5 171.9L495 172L495.5 172.1L496 172.2L496.5 172.3L497 172.4L497.5 172.5L498 172.5L498.5 172.6L499 172.7L499.5 172.7L500 172.8L500.5 172.8L501 172.9L501.5 172.9L502 173L502.5 173L503 173.1L503.5 173.1L504 173.2L504.5 173.2L505 173.2" fill="none" stroke="#111" stroke-width="1.25"/>
<line x1="118" y1="173.8" x2="501" y2="173.8" stroke="#222" stroke-width="1"/>
<path d="M0 464.2L0 464.2L0.5 464.2L1 464.2L1.5 464.2L2 464.2L2.5 464.2L3 464.2L3.5 464.2L4 464.2L4.5 464.2L5 464.1L5.5 464.1L6 464L6.5 463.9L7 463.6L7.5 463.2L8 462.5L8.5 461.5L9 459.9L9.5 457.7L10 454.5L10.5 450.1L11 444.4L11.5 437.1L12 428.1L12.5 417.5L13 405.4L13.5 392.1L14 378.3L14.5 364.7L15 352.1L15.5 341.3L16 333.2L16.5 328.4L17 327.2L17.5 328.8L18 332.5L18.5 338.3L19 345.7L19.5 354.5L20 364.3L20.5 374.7L21 385.4L21.5 395.9L22 405.9L22.5 415.3L23 423.9L23.5 431.5L24 438.1L24.5 443.7L25 448.3L25.5 452.2L26 455.2L26.5 457.6L27 459.4L27.5 460.8L28 461.8L28.5 462.6L29 463.1L29.5 463.5L30 463.7L30.5 463.9L31 464L31.5 464.1L32 464.1L32.5 464.2L33 464.2L33.5 464.2L34 464.2L34.5 464.2L35 464.2L35.5 464.2L36 464.2L36.5 464.2L37 464.2L37.5 464.2L38 464.2L38.5 464.2L39 464.2L39.5 464.2L40 464.2L40.5 464.2L41 464.2L41.5 464.2L42 464.2L42.5 464.2L43 464.2L43.5 464.2L44 464.2L44.5 464.2L45 464.2L45.5 464.2L46 464.2L46.5 464.2L47 464.2L47.5 464.2L48 464.2L48.5 464.2L49 464.2L49.5 464.2L50 464.2L50.5 464.2L51 464.2L51.5 464.2L52 464.2L52.5 464.2L53 464.2L53.5 464.2L54 464.2L54.5 464.2L55 464.2L55.5 464.2L56 464.2L56.5 464.2L57 464.2L57.5 464.2L58 464.2L58.5 464.2L59 464.2L59.5 464.2L60 464.2L60.5 464.2L61 464.2L61.5 464.2L62 464.2L62.5 464.2L63 464.2L63.5 464.2L64 464.2L64.5 464.2L65 464.2L65.5 464.2L66 464.2L66.5 464.2L67 464.2L67.5 464.2L68 464.2L68.5 464.2L69 464.2L69.5 464.2L70 464.2L70.5 464.2L71 464.2L71.5 464.2L72 464.2L72 464.2Z" fill="url(#g1b)"/>
<path d="M0 464.2L0 464.2L0.5 464.2L1 464.2L1.5 464.1L2 464.1L2.5 464.1L3 464.1L3.5 464L4 464L4.5 464L5 463.9L5.5 463.8L6 463.8L6.5 463.7L7 463.5L7.5 463.4L8 463.2L8.5 462.9L9 462.7L9.5 462.4L10 462L10.5 461.5L11 461L11.5 460.5L12 459.8L12.5 459.1L13 458.3L13.5 457.5L14 456.7L14.5 455.8L15 454.9L15.5 454.1L16 453.2L16.5 452.4L17 451.7L17.5 451L18 450.3L18.5 449.7L19 449.2L19.5 448.7L20 448.3L20.5 447.9L21 447.5L21.5 447.2L22 446.9L22.5 446.6L23 446.4L23.5 446.2L24 446L24.5 445.8L25 445.7L25.5 445.5L26 445.4L26.5 445.3L27 445.2L27.5 445.1L28 445L28.5 444.9L29 444.9L29.5 444.8L30 444.8L30.5 444.8L31 444.7L31.5 444.7L32 444.7L32.5 444.7L33 444.7L33.5 444.7L34 444.8L34.5 444.8L35 444.9L35.5 445L36 445.1L36.5 445.3L37 445.5L37.5 445.7L38 446L38.5 446.4L39 446.8L39.5 447.2L40 447.7L40.5 448.3L41 448.9L41.5 449.5L42 450.2L42.5 450.9L43 451.6L43.5 452.4L44 453.2L44.5 453.9L45 454.7L45.5 455.5L46 456.3L46.5 457L47 457.8L47.5 458.5L48 459.1L48.5 459.7L49 460.3L49.5 460.9L50 461.3L50.5 461.8L51 462.2L51.5 462.5L52 462.8L52.5 463.1L53 463.3L53.5 463.5L54 463.6L54.5 463.7L55 463.8L55.5 463.9L56 464L56.5 464L57 464.1L57.5 464.1L58 464.1L58.5 464.2L59 464.2L59.5 464.2L60 464.2L60.5 464.2L61 464.2L61.5 464.2L62 464.2L62.5 464.2L63 464.2L63.5 464.2L64 464.2L64.5 464.2L65 464.2L65.5 464.2L66 464.2L66.5 464.2L67 464.2L67.5 464.2L68 464.2L68.5 464.2L69 464.2L69.5 464.2L70 464.2L70.5 464.2L71 464.2L71.5 464.2L72 464.2L72 464.2Z" fill="url(#sb)"/>
<path d="M0 464.2L0 464.2L0.5 464.2L1 464.2L1.5 464.2L2 464.2L2.5 464.2L3 464.2L3.5 464.2L4 464.2L4.5 464.2L5 464.2L5.5 464.2L6 464.2L6.5 464.2L7 464.2L7.5 464.2L8 464.2L8.5 464.2L9 464.2L9.5 464.2L10 464.2L10.5 464.2L11 464.2L11.5 464.2L12 464.2L12.5 464.2L13 464.2L13.5 464.2L14 464.2L14.5 464.2L15 464.2L15.5 464.2L16 464.2L16.5 464.2L17 464.2L17.5 464.2L18 464.2L18.5 464.2L19 464.2L19.5 464.2L20 464.2L20.5 464.2L21 464.2L21.5 464.2L22 464.2L22.5 464.2L23 464.2L23.5 464.2L24 464.2L24.5 464.2L25 464.2L25.5 464.2L26 464.2L26.5 464.2L27 464.2L27.5 464.2L28 464.2L28.5 464.2L29 464.2L29.5 464.2L30 464.2L30.5 464.2L31 464.2L31.5 464.2L32 464.2L32.5 464.1L33 464.1L33.5 464L34 463.9L34.5 463.7L35 463.5L35.5 463.2L36 462.8L36.5 462.3L37 461.7L37.5 461.1L38 460.3L38.5 459.5L39 458.7L39.5 457.8L40 456.9L40.5 456.1L41 455.3L41.5 454.5L42 453.9L42.5 453.4L43 452.9L43.5 452.5L44 452.3L44.5 452.1L45 452L45.5 451.9L46 451.9L46.5 451.9L47 451.9L47.5 451.9L48 451.9L48.5 452L49 452.1L49.5 452.3L50 452.6L50.5 452.9L51 453.3L51.5 453.8L52 454.4L52.5 455.1L53 455.8L53.5 456.6L54 457.4L54.5 458.2L55 459L55.5 459.8L56 460.5L56.5 461.2L57 461.8L57.5 462.3L58 462.8L58.5 463.1L59 463.4L59.5 463.7L60 463.8L60.5 464L61 464L61.5 464.1L62 464.1L62.5 464.2L63 464.2L63.5 464.2L64 464.2L64.5 464.2L65 464.2L65.5 464.2L66 464.2L66.5 464.2L67 464.2L67.5 464.2L68 464.2L68.5 464.2L69 464.2L69.5 464.2L70 464.2L70.5 464.2L71 464.2L71.5 464.2L72 464.2L72 464.2Z" fill="url(#g2b)"/>
<path d="M0 464.2L0 464.2L0.5 464.2L1 464.2L1.5 464.2L2 464.2L2.5 464.2L3 464.2L3.5 464.2L4 464.2L4.5 464.2L5 464.2L5.5 464.2L6 464.2L6.5 464.2L7 464.2L7.5 464.2L8 464.2L8.5 464.2L9 464.2L9.5 464.2L10 464.2L10.5 464.2L11 464.2L11.5 464.2L12 464.2L12.5 464.2L13 464.2L13.5 464.2L14 464.2L14.5 464.2L15 464.2L15.5 464.2L16 464.2L16.5 464.2L17 464.2L17.5 464.2L18 464.2L18.5 464.2L19 464.2L19.5 464.2L20 464.2L20.5 464.2L21 464.2L21.5 464.2L22 464.2L22.5 464.2L23 464.2L23.5 464.2L24 464.2L24.5 464.2L25 464.2L25.5 464.2L26 464.2L26.5 464.2L27 464.2L27.5 464.2L28 464.2L28.5 464.2L29 464.2L29.5 464.2L30 464.2L30.5 464.2L31 464.2L31.5 464.2L32 464.2L32.5 464.2L33 464.2L33.5 464.2L34 464.2L34.5 464.2L35 464.2L35.5 464.2L36 464.2L36.5 464.2L37 464.2L37.5 464.2L38 464.2L38.5 464.2L39 464.2L39.5 464.2L40 464.2L40.5 464.2L41 464.2L41.5 464.2L42 464.2L42.5 464.2L43 464.2L43.5 464.2L44 464.2L44.5 464.2L45 464.2L45.5 464.2L46 464.2L46.5 464.2L47 464.2L47.5 464.2L48 464.2L48.5 464.2L49 464.2L49.5 464.2L50 464.2L50.5 464.2L51 464.2L51.5 464.2L52 464.2L52.5 464.2L53 464.2L53.5 464.2L54 464.2L54.5 464.2L55 464.2L55.5 464.2L56 464.2L56.5 464.2L57 464.2L57.5 464.2L58 464.2L58.5 464.2L59 464.2L59.5 464.2L60 464.2L60.5 464.2L61 464.2L61.5 464.2L62 464.2L62.5 464.2L63 464.2L63.5 464.2L64 464.2L64.5 464.2L65 464.2L65.5 464.2L66 464.2L66.5 464.2L67 464.2L67.5 464.2L68 464.2L68.5 464.2L69 464.2L69.5 464.2L70 464.2L70.5 464.2L71 464.2L71.5 464.2L72 464.2L72 464.2Z" fill="url(#ov1b)"/>
<path d="M0 464.2L0.5 464.2L1 464.2L1.5 464.2L2 464.2L2.5 464.2L3 464.2L3.5 464.2L4 464.2L4.5 464.2L5 464.1L5.5 464L6 463.9L6.5 463.7L7 463.3L7.5 462.8L8 461.9L8.5 460.6L9 458.8L9.5 456.1L10 452.4L10.5 447.6L11 441.3L11.5 433.5L12 424.1L12.5 413.1L13 400.7L13.5 387.5L14 373.8L14.5 360.5L15 348.2L15.5 337.8L16 330L16.5 325.4L17 324.2L17.5 325.6L18 328.9L18.5 334L19 340.7L19.5 348.6L20 357.6L20.5 367.2L21 377.3L21.5 387.3L22 397.2L22.5 406.6L23 415.4L23.5 423.3L24 430.1L24.5 435.7L25 439.5L25.5 441.5L26 442.1L26.5 442.2L27 442.1L27.5 442L28 441.8L28.5 441.7L29 441.6L29.5 441.5L30 441.4L30.5 441.4L31 441.3L31.5 441.2L32 441.1L32.5 441.1L33 441L33.5 441L34 440.9L34.5 440.8L35 440.7L35.5 440.7L36 440.6L36.5 440.5L37 440.4L37.5 440.3L38 440.2L38.5 440.1L39 439.9L39.5 439.8L40 439.6L40.5 439.4L41 439.3L41.5 439.3L42 439.3L42.5 439.4L43 439.5L43.5 439.7L44 440L44.5 440.3L45 440.7L45.5 441.2L46 441.7L46.5 442.3L47 442.9L47.5 443.6L48 444.4L48.5 445.2L49 446L49.5 446.9L50 447.7L50.5 448.6L51 449.5L51.5 450.4L52 451.3L52.5 452.2L53 453.1L53.5 453.9L54 454.8L54.5 455.6L55 456.3L55.5 457L56 457.7L56.5 458.4L57 459L57.5 459.5L58 460L58.5 460.5L59 460.9L59.5 461.3L60 461.7L60.5 462L61 462.3L61.5 462.5L62 462.8L62.5 463L63 463.1L63.5 463.3L64 463.4L64.5 463.5L65 463.6L65.5 463.7L66 463.8L66.5 463.9L67 463.9L67.5 464L68 464L68.5 464L69 464.1L69.5 464.1L70 464.1L70.5 464.1L71 464.1L71.5 464.1L72 464.2" fill="none" stroke="#fff" stroke-width="2.2" stroke-opacity="0.0"/>
<path d="M0 464.2L0.5 464.2L1 464.2L1.5 464.2L2 464.2L2.5 464.2L3 464.2L3.5 464.2L4 464.2L4.5 464.2L5 464.1L5.5 464L6 463.9L6.5 463.7L7 463.3L7.5 462.8L8 461.9L8.5 460.6L9 458.8L9.5 456.1L10 452.4L10.5 447.6L11 441.3L11.5 433.5L12 424.1L12.5 413.1L13 400.7L13.5 387.5L14 373.8L14.5 360.5L15 348.2L15.5 337.8L16 330L16.5 325.4L17 324.2L17.5 325.6L18 328.9L18.5 334L19 340.7L19.5 348.6L20 357.6L20.5 367.2L21 377.3L21.5 387.3L22 397.2L22.5 406.6L23 415.4L23.5 423.3L24 430.1L24.5 435.7L25 439.5L25.5 441.5L26 442.1L26.5 442.2L27 442.1L27.5 442L28 441.8L28.5 441.7L29 441.6L29.5 441.5L30 441.4L30.5 441.4L31 441.3L31.5 441.2L32 441.1L32.5 441.1L33 441L33.5 441L34 440.9L34.5 440.8L35 440.7L35.5 440.7L36 440.6L36.5 440.5L37 440.4L37.5 440.3L38 440.2L38.5 440.1L39 439.9L39.5 439.8L40 439.6L40.5 439.4L41 439.3L41.5 439.3L42 439.3L42.5 439.4L43 439.5L43.5 439.7L44 440L44.5 440.3L45 440.7L45.5 441.2L46 441.7L46.5 442.3L47 442.9L47.5 443.6L48 444.4L48.5 445.2L49 446L49.5 446.9L50 447.7L50.5 448.6L51 449.5L51.5 450.4L52 451.3L52.5 452.2L53 453.1L53.5 453.9L54 454.8L54.5 455.6L55 456.3L55.5 457L56 457.7L56.5 458.4L57 459L57.5 459.5L58 460L58.5 460.5L59 460.9L59.5 461.3L60 461.7L60.5 462L61 462.3L61.5 462.5L62 462.8L62.5 463L63 463.1L63.5 463.3L64 463.4L64.5 463.5L65 463.6L65.5 463.7L66 463.8L66.5 463.9L67 463.9L67.5 464L68 464L68.5 464L69 464.1L69.5 464.1L70 464.1L70.5 464.1L71 464.1L71.5 464.1L72 464.2" fill="none" stroke="#111" stroke-width="1.25"/>
<path d="M86 464.2L86 464.2L86.5 464.2L87 464.2L87.5 464.2L88 464.2L88.5 464.2L89 464.2L89.5 464.2L90 464.2L90.5 464.2L91 464.1L91.5 464.1L92 464L92.5 463.9L93 463.7L93.5 463.4L94 462.9L94.5 462.1L95 461L95.5 459.4L96 457.2L96.5 454.1L97 450.1L97.5 444.9L98 438.3L98.5 430.4L99 420.9L99.5 410.1L100 398.2L100.5 385.4L101 372.3L101.5 359.5L102 347.6L102.5 337.2L103 329.1L103.5 323.7L104 321.5L104.5 322.1L105 325.2L105.5 330.3L106 337.4L106.5 346L107 355.9L107.5 366.5L108 377.6L108.5 388.6L109 399.3L109.5 409.4L110 418.7L110.5 427.1L111 434.3L111.5 440.6L112 445.8L112.5 450.2L113 453.6L113.5 456.4L114 458.5L114.5 460.1L115 461.3L115.5 462.2L116 462.8L116.5 463.3L117 463.6L117.5 463.8L118 464L118.5 464L119 464.1L119.5 464.1L120 464.2L120.5 464.2L121 464.2L121.5 464.2L122 464.2L122.5 464.2L123 464.2L123.5 464.2L124 464.2L124.5 464.2L125 464.2L125.5 464.2L126 464.2L126.5 464.2L127 464.2L127.5 464.2L128 464.2L128.5 464.2L129 464.2L129.5 464.2L130 464.2L130.5 464.2L131 464.2L131.5 464.2L132 464.2L132.5 464.2L133 464.2L133.5 464.2L134 464.2L134.5 464.2L135 464.2L135.5 464.2L136 464.2L136.5 464.2L137 464.2L137.5 464.2L138 464.2L138.5 464.2L139 464.2L139.5 464.2L140 464.2L140.5 464.2L141 464.2L141.5 464.2L142 464.2L142.5 464.2L143 464.2L143.5 464.2L144 464.2L144.5 464.2L145 464.2L145.5 464.2L146 464.2L146.5 464.2L147 464.2L147.5 464.2L148 464.2L148.5 464.2L149 464.2L149.5 464.2L150 464.2L150.5 464.2L151 464.2L151.5 464.2L152 464.2L152.5 464.2L153 464.2L153.5 464.2L154 464.2L154.5 464.2L155 464.2L155.5 464.2L156 464.2L156.5 464.2L157 464.2L157.5 464.2L158 464.2L158.5 464.2L159 464.2L159.5 464.2L160 464.2L160.5 464.2L161 464.2L161.5 464.2L162 464.2L162.5 464.2L163 464.2L163.5 464.2L164 464.2L164.5 464.2L165 464.2L165.5 464.2L166 464.2L166.5 464.2L167 464.2L167.5 464.2L168 464.2L168.5 464.2L169 464.2L169.5 464.2L170 464.2L170.5 464.2L171 464.2L171.5 464.2L172 464.2L172 464.2Z" fill="url(#g1b)"/>
<path d="M86 464.2L86 464.2L86.5 464.2L87 464.2L87.5 464.2L88 464.2L88.5 464.2L89 464.2L89.5 464.2L90 464.2L90.5 464.2L91 464.2L91.5 464.2L92 464.1L92.5 464.1L93 464.1L93.5 464.1L94 464L94.5 464L95 463.9L95.5 463.8L96 463.7L96.5 463.6L97 463.4L97.5 463.2L98 463L98.5 462.7L99 462.3L99.5 461.9L100 461.5L100.5 461L101 460.4L101.5 459.8L102 459.3L102.5 458.7L103 458.1L103.5 457.6L104 457.2L104.5 456.7L105 456.4L105.5 456L106 455.8L106.5 455.5L107 455.3L107.5 455.1L108 455L108.5 454.9L109 454.8L109.5 454.7L110 454.6L110.5 454.5L111 454.4L111.5 454.3L112 454.3L112.5 454.2L113 454.2L113.5 454.1L114 454.1L114.5 454L115 454L115.5 453.9L116 453.9L116.5 453.9L117 453.8L117.5 453.8L118 453.8L118.5 453.7L119 453.7L119.5 453.7L120 453.7L120.5 453.6L121 453.6L121.5 453.6L122 453.6L122.5 453.6L123 453.6L123.5 453.5L124 453.5L124.5 453.5L125 453.5L125.5 453.5L126 453.5L126.5 453.5L127 453.5L127.5 453.5L128 453.5L128.5 453.5L129 453.5L129.5 453.5L130 453.6L130.5 453.6L131 453.7L131.5 453.8L132 453.9L132.5 454L133 454.1L133.5 454.3L134 454.5L134.5 454.7L135 455L135.5 455.2L136 455.5L136.5 455.9L137 456.2L137.5 456.5L138 456.9L138.5 457.3L139 457.7L139.5 458.1L140 458.5L140.5 458.9L141 459.4L141.5 459.8L142 460.2L142.5 460.6L143 460.9L143.5 461.3L144 461.6L144.5 461.9L145 462.2L145.5 462.5L146 462.7L146.5 462.9L147 463.1L147.5 463.3L148 463.5L148.5 463.6L149 463.7L149.5 463.8L150 463.9L150.5 463.9L151 464L151.5 464L152 464.1L152.5 464.1L153 464.1L153.5 464.2L154 464.2L154.5 464.2L155 464.2L155.5 464.2L156 464.2L156.5 464.2L157 464.2L157.5 464.2L158 464.2L158.5 464.2L159 464.2L159.5 464.2L160 464.2L160.5 464.2L161 464.2L161.5 464.2L162 464.2L162.5 464.2L163 464.2L163.5 464.2L164 464.2L164.5 464.2L165 464.2L165.5 464.2L166 464.2L166.5 464.2L167 464.2L167.5 464.2L168 464.2L168.5 464.2L169 464.2L169.5 464.2L170 464.2L170.5 464.2L171 464.2L171.5 464.2L172 464.2L172 464.2Z" fill="url(#sb)"/>
<path d="M86 464.2L86 464.2L86.5 464.2L87 464.2L87.5 464.2L88 464.2L88.5 464.2L89 464.2L89.5 464.2L90 464.2L90.5 464.2L91 464.2L91.5 464.2L92 464.2L92.5 464.2L93 464.2L93.5 464.2L94 464.2L94.5 464.2L95 464.2L95.5 464.2L96 464.2L96.5 464.2L97 464.2L97.5 464.2L98 464.2L98.5 464.2L99 464.2L99.5 464.2L100 464.2L100.5 464.2L101 464.2L101.5 464.2L102 464.2L102.5 464.2L103 464.2L103.5 464.2L104 464.2L104.5 464.2L105 464.2L105.5 464.2L106 464.2L106.5 464.2L107 464.2L107.5 464.2L108 464.2L108.5 464.2L109 464.2L109.5 464.2L110 464.2L110.5 464.2L111 464.2L111.5 464.2L112 464.2L112.5 464.2L113 464.2L113.5 464.2L114 464.2L114.5 464.2L115 464.2L115.5 464.2L116 464.2L116.5 464.2L117 464.2L117.5 464.2L118 464.2L118.5 464.2L119 464.2L119.5 464.2L120 464.2L120.5 464.2L121 464.2L121.5 464.2L122 464.2L122.5 464.2L123 464.2L123.5 464.2L124 464.2L124.5 464.2L125 464.2L125.5 464.2L126 464.2L126.5 464.2L127 464.2L127.5 464.2L128 464.2L128.5 464.2L129 464.1L129.5 464.1L130 464.1L130.5 464L131 463.9L131.5 463.7L132 463.5L132.5 463.3L133 462.9L133.5 462.5L134 462.1L134.5 461.5L135 460.9L135.5 460.2L136 459.5L136.5 458.7L137 458L137.5 457.2L138 456.5L138.5 455.8L139 455.2L139.5 454.6L140 454.1L140.5 453.7L141 453.4L141.5 453.1L142 453L142.5 452.8L143 452.8L143.5 452.7L144 452.7L144.5 452.7L145 452.7L145.5 452.7L146 452.8L146.5 452.8L147 453L147.5 453.1L148 453.4L148.5 453.7L149 454.1L149.5 454.6L150 455.2L150.5 455.8L151 456.5L151.5 457.2L152 458L152.5 458.7L153 459.5L153.5 460.2L154 460.9L154.5 461.5L155 462.1L155.5 462.5L156 462.9L156.5 463.3L157 463.5L157.5 463.7L158 463.9L158.5 464L159 464.1L159.5 464.1L160 464.1L160.5 464.2L161 464.2L161.5 464.2L162 464.2L162.5 464.2L163 464.2L163.5 464.2L164 464.2L164.5 464.2L165 464.2L165.5 464.2L166 464.2L166.5 464.2L167 464.2L167.5 464.2L168 464.2L168.5 464.2L169 464.2L169.5 464.2L170 464.2L170.5 464.2L171 464.2L171.5 464.2L172 464.2L172 464.2Z" fill="url(#g2b)"/>
<path d="M86 464.2L86 464.2L86.5 464.2L87 464.2L87.5 464.2L88 464.2L88.5 464.2L89 464.2L89.5 464.2L90 464.2L90.5 464.2L91 464.2L91.5 464.2L92 464.2L92.5 464.2L93 464.2L93.5 464.2L94 464.2L94.5 464.2L95 464.2L95.5 464.2L96 464.2L96.5 464.2L97 464.2L97.5 464.2L98 464.2L98.5 464.2L99 464.2L99.5 464.2L100 464.2L100.5 464.2L101 464.2L101.5 464.2L102 464.2L102.5 464.2L103 464.2L103.5 464.2L104 464.2L104.5 464.2L105 464.2L105.5 464.2L106 464.2L106.5 464.2L107 464.2L107.5 464.2L108 464.2L108.5 464.2L109 464.2L109.5 464.2L110 464.2L110.5 464.2L111 464.2L111.5 464.2L112 464.2L112.5 464.2L113 464.2L113.5 464.2L114 464.2L114.5 464.2L115 464.2L115.5 464.2L116 464.2L116.5 464.2L117 464.2L117.5 464.2L118 464.2L118.5 464.2L119 464.2L119.5 464.2L120 464.2L120.5 464.2L121 464.2L121.5 464.2L122 464.2L122.5 464.2L123 464.2L123.5 464.2L124 464.2L124.5 464.2L125 464.2L125.5 464.2L126 464.2L126.5 464.2L127 464.2L127.5 464.2L128 464.2L128.5 464.2L129 464.2L129.5 464.2L130 464.2L130.5 464.2L131 464.2L131.5 464.2L132 464.2L132.5 464.2L133 464.2L133.5 464.2L134 464.2L134.5 464.2L135 464.2L135.5 464.2L136 464.2L136.5 464.2L137 464.2L137.5 464.2L138 464.2L138.5 464.2L139 464.2L139.5 464.2L140 464.2L140.5 464.2L141 464.2L141.5 464.2L142 464.2L142.5 464.2L143 464.2L143.5 464.2L144 464.2L144.5 464.2L145 464.2L145.5 464.2L146 464.2L146.5 464.2L147 464.2L147.5 464.2L148 464.2L148.5 464.2L149 464.2L149.5 464.2L150 464.2L150.5 464.2L151 464.2L151.5 464.2L152 464.2L152.5 464.2L153 464.2L153.5 464.2L154 464.2L154.5 464.2L155 464.2L155.5 464.2L156 464.2L156.5 464.2L157 464.2L157.5 464.2L158 464.2L158.5 464.2L159 464.2L159.5 464.2L160 464.2L160.5 464.2L161 464.2L161.5 464.2L162 464.2L162.5 464.2L163 464.2L163.5 464.2L164 464.2L164.5 464.2L165 464.2L165.5 464.2L166 464.2L166.5 464.2L167 464.2L167.5 464.2L168 464.2L168.5 464.2L169 464.2L169.5 464.2L170 464.2L170.5 464.2L171 464.2L171.5 464.2L172 464.2L172 464.2Z" fill="url(#ov1b)"/>
<path d="M86 464.2L86.5 464.2L87 464.2L87.5 464.2L88 464.2L88.5 464.2L89 464.2L89.5 464.2L90 464.2L90.5 464.2L91 464.1L91.5 464.1L92 463.9L92.5 463.8L93 463.5L93.5 463.1L94 462.5L94.5 461.5L95 460.2L95.5 458.3L96 455.8L96.5 452.4L97 448L97.5 442.3L98 435.4L98.5 427.2L99 417.5L99.5 406.6L100 394.7L100.5 382.1L101 369.3L101.5 356.9L102 345.4L102.5 335.5L103 327.7L103.5 322.6L104 320.5L104.5 321.1L105 323.7L105.5 328.2L106 334.4L106.5 342.1L107 350.9L107.5 360.6L108 370.8L108.5 381.1L109 391.4L109.5 401.3L110 410.6L110.5 419.2L111 426.9L111.5 433.7L112 439.5L112.5 444.3L113 448L113.5 450.2L114 451.2L114.5 451.4L115 451.5L115.5 451.4L116 451.4L116.5 451.4L117 451.3L117.5 451.3L118 451.2L118.5 451.2L119 451.2L119.5 451.1L120 451.1L120.5 451.1L121 451.1L121.5 451L122 451L122.5 451L123 451L123.5 450.9L124 450.9L124.5 450.9L125 450.9L125.5 450.9L126 450.8L126.5 450.8L127 450.8L127.5 450.8L128 450.7L128.5 450.7L129 450.7L129.5 450.6L130 450.6L130.5 450.5L131 450.4L131.5 450.3L132 450.2L132.5 450.1L133 450L133.5 449.8L134 449.6L134.5 449.3L135 449L135.5 448.7L136 448.4L136.5 448.1L137 447.7L137.5 447.4L138 447.1L138.5 446.7L139 446.4L139.5 446.1L140 445.9L140.5 445.6L141 445.5L141.5 445.4L142 445.3L142.5 445.4L143 445.5L143.5 445.7L144 446L144.5 446.4L145 446.9L145.5 447.4L146 447.9L146.5 448.5L147 449.1L147.5 449.8L148 450.5L148.5 451.2L149 451.9L149.5 452.6L150 453.3L150.5 454L151 454.8L151.5 455.4L152 456.1L152.5 456.8L153 457.4L153.5 458L154 458.6L154.5 459.1L155 459.6L155.5 460L156 460.5L156.5 460.9L157 461.2L157.5 461.6L158 461.8L158.5 462.1L159 462.4L159.5 462.6L160 462.8L160.5 462.9L161 463.1L161.5 463.2L162 463.4L162.5 463.5L163 463.6L163.5 463.6L164 463.7L164.5 463.8L165 463.8L165.5 463.9L166 463.9L166.5 464L167 464L167.5 464L168 464L168.5 464.1L169 464.1L169.5 464.1L170 464.1L170.5 464.1L171 464.1L171.5 464.1L172 464.2" fill="none" stroke="#fff" stroke-width="2.2" stroke-opacity="0.0"/>
<path d="M86 464.2L86.5 464.2L87 464.2L87.5 464.2L88 464.2L88.5 464.2L89 464.2L89.5 464.2L90 464.2L90.5 464.2L91 464.1L91.5 464.1L92 463.9L92.5 463.8L93 463.5L93.5 463.1L94 462.5L94.5 461.5L95 460.2L95.5 458.3L96 455.8L96.5 452.4L97 448L97.5 442.3L98 435.4L98.5 427.2L99 417.5L99.5 406.6L100 394.7L100.5 382.1L101 369.3L101.5 356.9L102 345.4L102.5 335.5L103 327.7L103.5 322.6L104 320.5L104.5 321.1L105 323.7L105.5 328.2L106 334.4L106.5 342.1L107 350.9L107.5 360.6L108 370.8L108.5 381.1L109 391.4L109.5 401.3L110 410.6L110.5 419.2L111 426.9L111.5 433.7L112 439.5L112.5 444.3L113 448L113.5 450.2L114 451.2L114.5 451.4L115 451.5L115.5 451.4L116 451.4L116.5 451.4L117 451.3L117.5 451.3L118 451.2L118.5 451.2L119 451.2L119.5 451.1L120 451.1L120.5 451.1L121 451.1L121.5 451L122 451L122.5 451L123 451L123.5 450.9L124 450.9L124.5 450.9L125 450.9L125.5 450.9L126 450.8L126.5 450.8L127 450.8L127.5 450.8L128 450.7L128.5 450.7L129 450.7L129.5 450.6L130 450.6L130.5 450.5L131 450.4L131.5 450.3L132 450.2L132.5 450.1L133 450L133.5 449.8L134 449.6L134.5 449.3L135 449L135.5 448.7L136 448.4L136.5 448.1L137 447.7L137.5 447.4L138 447.1L138.5 446.7L139 446.4L139.5 446.1L140 445.9L140.5 445.6L141 445.5L141.5 445.4L142 445.3L142.5 445.4L143 445.5L143.5 445.7L144 446L144.5 446.4L145 446.9L145.5 447.4L146 447.9L146.5 448.5L147 449.1L147.5 449.8L148 450.5L148.5 451.2L149 451.9L149.5 452.6L150 453.3L150.5 454L151 454.8L151.5 455.4L152 456.1L152.5 456.8L153 457.4L153.5 458L154 458.6L154.5 459.1L155 459.6L155.5 460L156 460.5L156.5 460.9L157 461.2L157.5 461.6L158 461.8L158.5 462.1L159 462.4L159.5 462.6L160 462.8L160.5 462.9L161 463.1L161.5 463.2L162 463.4L162.5 463.5L163 463.6L163.5 463.6L164 463.7L164.5 463.8L165 463.8L165.5 463.9L166 463.9L166.5 464L167 464L167.5 464L168 464L168.5 464.1L169 464.1L169.5 464.1L170 464.1L170.5 464.1L171 464.1L171.5 464.1L172 464.2" fill="none" stroke="#111" stroke-width="1.25"/>
<path d="M180 464.2L180 464.2L180.5 464.2L181 464.2L181.5 464.2L182 464.2L182.5 464.2L183 464.2L183.5 464.2L184 464.2L184.5 464.2L185 464.1L185.5 464.1L186 464L186.5 463.9L187 463.7L187.5 463.4L188 463L188.5 462.3L189 461.4L189.5 460L190 458L190.5 455.3L191 451.8L191.5 447.3L192 441.5L192.5 434.5L193 426.1L193.5 416.3L194 405.4L194.5 393.6L195 381.1L195.5 368.6L196 356.5L196.5 345.5L197 336.2L197.5 329.1L198 324.6L198.5 323.1L199 324.2L199.5 327.4L200 332.7L200.5 339.7L201 348.1L201.5 357.7L202 368L202.5 378.6L203 389.3L203.5 399.6L204 409.4L204.5 418.4L205 426.5L205.5 433.7L206 439.9L206.5 445.1L207 449.4L207.5 453L208 455.8L208.5 458L209 459.7L209.5 461L210 461.9L210.5 462.6L211 463.1L211.5 463.5L212 463.7L212.5 463.9L213 464L213.5 464.1L214 464.1L214.5 464.2L215 464.2L215.5 464.2L216 464.2L216.5 464.2L217 464.2L217.5 464.2L218 464.2L218.5 464.2L219 464.2L219.5 464.2L220 464.2L220.5 464.2L221 464.2L221.5 464.2L222 464.2L222.5 464.2L223 464.2L223.5 464.2L224 464.2L224.5 464.2L225 464.2L225.5 464.2L226 464.2L226.5 464.2L227 464.2L227.5 464.2L228 464.2L228.5 464.2L229 464.2L229.5 464.2L230 464.2L230.5 464.2L231 464.2L231.5 464.2L232 464.2L232.5 464.2L233 464.2L233.5 464.2L234 464.2L234.5 464.2L235 464.2L235.5 464.2L236 464.2L236.5 464.2L237 464.2L237.5 464.2L238 464.2L238.5 464.2L239 464.2L239.5 464.2L240 464.2L240.5 464.2L241 464.2L241.5 464.2L242 464.2L242.5 464.2L243 464.2L243.5 464.2L244 464.2L244.5 464.2L245 464.2L245.5 464.2L246 464.2L246.5 464.2L247 464.2L247.5 464.2L248 464.2L248.5 464.2L249 464.2L249.5 464.2L250 464.2L250.5 464.2L251 464.2L251.5 464.2L252 464.2L252.5 464.2L253 464.2L253.5 464.2L254 464.2L254.5 464.2L255 464.2L255.5 464.2L256 464.2L256.5 464.2L257 464.2L257.5 464.2L258 464.2L258.5 464.2L259 464.2L259.5 464.2L260 464.2L260.5 464.2L261 464.2L261.5 464.2L262 464.2L262 464.2Z" fill="url(#g1b)"/>
<path d="M180 464.2L180 464.1L180.5 464.1L181 464L181.5 464L182 464L182.5 463.9L183 463.9L183.5 463.8L184 463.8L184.5 463.7L185 463.6L185.5 463.6L186 463.5L186.5 463.3L187 463.2L187.5 463.1L188 462.9L188.5 462.7L189 462.5L189.5 462.2L190 462L190.5 461.6L191 461.3L191.5 460.9L192 460.5L192.5 460.1L193 459.6L193.5 459.1L194 458.5L194.5 457.9L195 457.3L195.5 456.7L196 456.1L196.5 455.4L197 454.8L197.5 454.1L198 453.5L198.5 452.9L199 452.3L199.5 451.7L200 451.2L200.5 450.6L201 450.1L201.5 449.7L202 449.3L202.5 448.9L203 448.5L203.5 448.2L204 447.9L204.5 447.6L205 447.3L205.5 447.1L206 446.9L206.5 446.7L207 446.5L207.5 446.3L208 446.1L208.5 446L209 445.9L209.5 445.8L210 445.6L210.5 445.5L211 445.4L211.5 445.4L212 445.3L212.5 445.2L213 445.1L213.5 445.1L214 445L214.5 445L215 444.9L215.5 444.9L216 444.9L216.5 444.8L217 444.8L217.5 444.8L218 444.8L218.5 444.7L219 444.7L219.5 444.7L220 444.7L220.5 444.7L221 444.7L221.5 444.7L222 444.8L222.5 444.8L223 444.9L223.5 444.9L224 445.1L224.5 445.2L225 445.4L225.5 445.6L226 445.9L226.5 446.2L227 446.5L227.5 446.9L228 447.4L228.5 447.9L229 448.4L229.5 449L230 449.6L230.5 450.3L231 450.9L231.5 451.6L232 452.4L232.5 453.1L233 453.9L233.5 454.6L234 455.4L234.5 456.1L235 456.9L235.5 457.6L236 458.2L236.5 458.9L237 459.5L237.5 460.1L238 460.6L238.5 461.1L239 461.5L239.5 461.9L240 462.3L240.5 462.6L241 462.9L241.5 463.1L242 463.3L242.5 463.5L243 463.6L243.5 463.7L244 463.8L244.5 463.9L245 464L245.5 464L246 464.1L246.5 464.1L247 464.1L247.5 464.2L248 464.2L248.5 464.2L249 464.2L249.5 464.2L250 464.2L250.5 464.2L251 464.2L251.5 464.2L252 464.2L252.5 464.2L253 464.2L253.5 464.2L254 464.2L254.5 464.2L255 464.2L255.5 464.2L256 464.2L256.5 464.2L257 464.2L257.5 464.2L258 464.2L258.5 464.2L259 464.2L259.5 464.2L260 464.2L260.5 464.2L261 464.2L261.5 464.2L262 464.2L262 464.2Z" fill="url(#sb)"/>
<path d="M180 464.2L180 464.2L180.5 464.2L181 464.2L181.5 464.2L182 464.2L182.5 464.2L183 464.2L183.5 464.2L184 464.2L184.5 464.2L185 464.2L185.5 464.2L186 464.2L186.5 464.2L187 464.2L187.5 464.2L188 464.2L188.5 464.2L189 464.2L189.5 464.2L190 464.2L190.5 464.2L191 464.2L191.5 464.2L192 464.2L192.5 464.2L193 464.2L193.5 464.2L194 464.2L194.5 464.2L195 464.2L195.5 464.2L196 464.2L196.5 464.2L197 464.2L197.5 464.2L198 464.2L198.5 464.2L199 464.2L199.5 464.2L200 464.2L200.5 464.2L201 464.2L201.5 464.2L202 464.2L202.5 464.2L203 464.2L203.5 464.2L204 464.2L204.5 464.2L205 464.2L205.5 464.2L206 464.2L206.5 464.2L207 464.2L207.5 464.2L208 464.2L208.5 464.2L209 464.2L209.5 464.2L210 464.2L210.5 464.2L211 464.2L211.5 464.2L212 464.2L212.5 464.2L213 464.2L213.5 464.2L214 464.2L214.5 464.2L215 464.2L215.5 464.2L216 464.2L216.5 464.2L217 464.1L217.5 464.1L218 464L218.5 464L219 463.9L219.5 463.8L220 463.6L220.5 463.4L221 463.2L221.5 462.9L222 462.5L222.5 462L223 461.5L223.5 460.9L224 460.2L224.5 459.4L225 458.6L225.5 457.7L226 456.7L226.5 455.7L227 454.7L227.5 453.6L228 452.6L228.5 451.7L229 450.8L229.5 449.9L230 449.2L230.5 448.6L231 448L231.5 447.6L232 447.3L232.5 447L233 446.9L233.5 446.8L234 446.8L234.5 446.8L235 446.9L235.5 447L236 447.2L236.5 447.5L237 447.8L237.5 448.3L238 448.8L238.5 449.5L239 450.2L239.5 451L240 451.8L240.5 452.7L241 453.6L241.5 454.6L242 455.5L242.5 456.5L243 457.4L243.5 458.2L244 459.1L244.5 459.8L245 460.5L245.5 461.1L246 461.7L246.5 462.1L247 462.5L247.5 462.9L248 463.2L248.5 463.4L249 463.6L249.5 463.7L250 463.9L250.5 464L251 464L251.5 464.1L252 464.1L252.5 464.1L253 464.2L253.5 464.2L254 464.2L254.5 464.2L255 464.2L255.5 464.2L256 464.2L256.5 464.2L257 464.2L257.5 464.2L258 464.2L258.5 464.2L259 464.2L259.5 464.2L260 464.2L260.5 464.2L261 464.2L261.5 464.2L262 464.2L262 464.2Z" fill="url(#g2b)"/>
<path d="M180 464.2L180 464.2L180.5 464.2L181 464.2L181.5 464.2L182 464.2L182.5 464.2L183 464.2L183.5 464.2L184 464.2L184.5 464.2L185 464.2L185.5 464.2L186 464.2L186.5 464.2L187 464.2L187.5 464.2L188 464.2L188.5 464.2L189 464.2L189.5 464.2L190 464.2L190.5 464.2L191 464.2L191.5 464.2L192 464.2L192.5 464.2L193 464.2L193.5 464.2L194 464.2L194.5 464.2L195 464.2L195.5 464.2L196 464.2L196.5 464.2L197 464.2L197.5 464.2L198 464.2L198.5 464.2L199 464.2L199.5 464.2L200 464.2L200.5 464.2L201 464.2L201.5 464.2L202 464.2L202.5 464.2L203 464.2L203.5 464.2L204 464.2L204.5 464.2L205 464.2L205.5 464.2L206 464.2L206.5 464.2L207 464.2L207.5 464.2L208 464.2L208.5 464.2L209 464.2L209.5 464.2L210 464.2L210.5 464.2L211 464.2L211.5 464.2L212 464.2L212.5 464.2L213 464.2L213.5 464.2L214 464.2L214.5 464.2L215 464.2L215.5 464.2L216 464.2L216.5 464.2L217 464.2L217.5 464.2L218 464.2L218.5 464.2L219 464.2L219.5 464.2L220 464.2L220.5 464.2L221 464.2L221.5 464.2L222 464.2L222.5 464.2L223 464.2L223.5 464.2L224 464.2L224.5 464.2L225 464.2L225.5 464.2L226 464.2L226.5 464.2L227 464.2L227.5 464.2L228 464.2L228.5 464.2L229 464.2L229.5 464.2L230 464.2L230.5 464.2L231 464.2L231.5 464.2L232 464.2L232.5 464.2L233 464.2L233.5 464.2L234 464.2L234.5 464.2L235 464.2L235.5 464.2L236 464.2L236.5 464.2L237 464.2L237.5 464.2L238 464.2L238.5 464.2L239 464.2L239.5 464.2L240 464.2L240.5 464.2L241 464.2L241.5 464.2L242 464.2L242.5 464.2L243 464.2L243.5 464.2L244 464.2L244.5 464.2L245 464.2L245.5 464.2L246 464.2L246.5 464.2L247 464.2L247.5 464.2L248 464.2L248.5 464.2L249 464.2L249.5 464.2L250 464.2L250.5 464.2L251 464.2L251.5 464.2L252 464.2L252.5 464.2L253 464.2L253.5 464.2L254 464.2L254.5 464.2L255 464.2L255.5 464.2L256 464.2L256.5 464.2L257 464.2L257.5 464.2L258 464.2L258.5 464.2L259 464.2L259.5 464.2L260 464.2L260.5 464.2L261 464.2L261.5 464.2L262 464.2L262 464.2Z" fill="url(#ov1b)"/>
<path d="M180 464.2L180.5 464.2L181 464.2L181.5 464.2L182 464.2L182.5 464.2L183 464.2L183.5 464.2L184 464.2L184.5 464.2L185 464.1L185.5 464.1L186 464L186.5 463.8L187 463.5L187.5 463.2L188 462.6L188.5 461.8L189 460.6L189.5 458.9L190 456.6L190.5 453.6L191 449.7L191.5 444.7L192 438.5L192.5 431L193 422.2L193.5 412.2L194 401.1L194.5 389.2L195 376.7L195.5 364.3L196 352.5L196.5 341.7L197 332.7L197.5 325.8L198 321.5L198.5 320L199 321L199.5 323.8L200 328.5L200.5 334.8L201 342.4L201.5 351.1L202 360.7L202.5 370.6L203 380.8L203.5 390.8L204 400.5L204.5 409.7L205 418.1L205.5 425.7L206 432.2L206.5 437.5L207 441.3L207.5 443.3L208 444L208.5 444.2L209 444.1L209.5 444L210 443.9L210.5 443.8L211 443.7L211.5 443.6L212 443.5L212.5 443.4L213 443.3L213.5 443.2L214 443.2L214.5 443.1L215 443L215.5 442.9L216 442.8L216.5 442.8L217 442.7L217.5 442.6L218 442.5L218.5 442.4L219 442.3L219.5 442.2L220 442.1L220.5 442L221 441.8L221.5 441.7L222 441.5L222.5 441.2L223 441L223.5 440.7L224 440.3L224.5 440L225 439.6L225.5 439.1L226 438.6L226.5 438.1L227 437.7L227.5 437.3L228 436.9L228.5 436.5L229 436.3L229.5 436.1L230 436L230.5 435.9L231 436L231.5 436.2L232 436.5L232.5 436.9L233 437.5L233.5 438.1L234 438.9L234.5 439.7L235 440.6L235.5 441.6L236 442.7L236.5 443.8L237 444.9L237.5 446L238 447.2L238.5 448.4L239 449.5L239.5 450.6L240 451.7L240.5 452.8L241 453.8L241.5 454.7L242 455.6L242.5 456.4L243 457.2L243.5 457.9L244 458.6L244.5 459.2L245 459.7L245.5 460.2L246 460.6L246.5 461L247 461.4L247.5 461.7L248 462L248.5 462.3L249 462.5L249.5 462.7L250 462.9L250.5 463L251 463.2L251.5 463.3L252 463.4L252.5 463.5L253 463.6L253.5 463.7L254 463.8L254.5 463.8L255 463.9L255.5 463.9L256 464L256.5 464L257 464L257.5 464L258 464.1L258.5 464.1L259 464.1L259.5 464.1L260 464.1L260.5 464.1L261 464.2L261.5 464.2L262 464.2" fill="none" stroke="#fff" stroke-width="2.2" stroke-opacity="0.0"/>
<path d="M180 464.2L180.5 464.2L181 464.2L181.5 464.2L182 464.2L182.5 464.2L183 464.2L183.5 464.2L184 464.2L184.5 464.2L185 464.1L185.5 464.1L186 464L186.5 463.8L187 463.5L187.5 463.2L188 462.6L188.5 461.8L189 460.6L189.5 458.9L190 456.6L190.5 453.6L191 449.7L191.5 444.7L192 438.5L192.5 431L193 422.2L193.5 412.2L194 401.1L194.5 389.2L195 376.7L195.5 364.3L196 352.5L196.5 341.7L197 332.7L197.5 325.8L198 321.5L198.5 320L199 321L199.5 323.8L200 328.5L200.5 334.8L201 342.4L201.5 351.1L202 360.7L202.5 370.6L203 380.8L203.5 390.8L204 400.5L204.5 409.7L205 418.1L205.5 425.7L206 432.2L206.5 437.5L207 441.3L207.5 443.3L208 444L208.5 444.2L209 444.1L209.5 444L210 443.9L210.5 443.8L211 443.7L211.5 443.6L212 443.5L212.5 443.4L213 443.3L213.5 443.2L214 443.2L214.5 443.1L215 443L215.5 442.9L216 442.8L216.5 442.8L217 442.7L217.5 442.6L218 442.5L218.5 442.4L219 442.3L219.5 442.2L220 442.1L220.5 442L221 441.8L221.5 441.7L222 441.5L222.5 441.2L223 441L223.5 440.7L224 440.3L224.5 440L225 439.6L225.5 439.1L226 438.6L226.5 438.1L227 437.7L227.5 437.3L228 436.9L228.5 436.5L229 436.3L229.5 436.1L230 436L230.5 435.9L231 436L231.5 436.2L232 436.5L232.5 436.9L233 437.5L233.5 438.1L234 438.9L234.5 439.7L235 440.6L235.5 441.6L236 442.7L236.5 443.8L237 444.9L237.5 446L238 447.2L238.5 448.4L239 449.5L239.5 450.6L240 451.7L240.5 452.8L241 453.8L241.5 454.7L242 455.6L242.5 456.4L243 457.2L243.5 457.9L244 458.6L244.5 459.2L245 459.7L245.5 460.2L246 460.6L246.5 461L247 461.4L247.5 461.7L248 462L248.5 462.3L249 462.5L249.5 462.7L250 462.9L250.5 463L251 463.2L251.5 463.3L252 463.4L252.5 463.5L253 463.6L253.5 463.7L254 463.8L254.5 463.8L255 463.9L255.5 463.9L256 464L256.5 464L257 464L257.5 464L258 464.1L258.5 464.1L259 464.1L259.5 464.1L260 464.1L260.5 464.1L261 464.2L261.5 464.2L262 464.2" fill="none" stroke="#111" stroke-width="1.25"/>
<path d="M258 464.2L258 464.1L258.5 464L259 464L259.5 464L260 463.9L260.5 463.9L261 463.8L261.5 463.8L262 463.7L262.5 463.6L263 463.5L263.5 463.3L264 463.2L264.5 463L265 462.8L265.5 462.6L266 462.4L266.5 462.1L267 461.8L267.5 461.4L268 461L268.5 460.5L269 459.9L269.5 459.3L270 458.7L270.5 457.9L271 457.1L271.5 456.1L272 455.1L272.5 453.9L273 452.7L273.5 451.3L274 449.8L274.5 448.1L275 446.3L275.5 444.3L276 442.2L276.5 439.9L277 437.4L277.5 434.8L278 431.9L278.5 428.9L279 425.7L279.5 422.3L280 418.8L280.5 415L281 411.1L281.5 407L282 402.7L282.5 398.3L283 393.8L283.5 389.2L284 384.4L284.5 379.6L285 374.8L285.5 369.9L286 365.1L286.5 360.2L287 355.5L287.5 350.8L288 346.3L288.5 342L289 337.9L289.5 334L290 330.4L290.5 327.2L291 324.3L291.5 321.8L292 319.7L292.5 318.2L293 317.2L293.5 316.8L294 316.9L294.5 317.3L295 318.1L295.5 319.3L296 320.8L296.5 322.8L297 325.1L297.5 327.9L298 331L298.5 334.4L299 338.2L299.5 342.3L300 346.7L300.5 351.3L301 356.2L301.5 361.2L302 366.3L302.5 371.5L303 376.8L303.5 382.1L304 387.4L304.5 392.6L305 397.7L305.5 402.7L306 407.5L306.5 412.2L307 416.7L307.5 421L308 425L308.5 428.8L309 432.4L309.5 435.8L310 438.9L310.5 441.7L311 444.3L311.5 446.7L312 448.9L312.5 450.9L313 452.6L313.5 454.2L314 455.6L314.5 456.8L315 457.9L315.5 458.8L316 459.7L316.5 460.4L317 461L317.5 461.5L318 462L318.5 462.4L319 462.7L319.5 463L320 463.2L320.5 463.4L321 463.5L321.5 463.7L322 463.8L322.5 463.9L323 463.9L323.5 464L324 464L324.5 464.1L325 464.1L325.5 464.1L326 464.1L326.5 464.2L327 464.2L327.5 464.2L328 464.2L328.5 464.2L329 464.2L329.5 464.2L330 464.2L330.5 464.2L331 464.2L331.5 464.2L332 464.2L332.5 464.2L333 464.2L333.5 464.2L334 464.2L334.5 464.2L335 464.2L335.5 464.2L336 464.2L336.5 464.2L337 464.2L337.5 464.2L338 464.2L338.5 464.2L339 464.2L339.5 464.2L340 464.2L340.5 464.2L341 464.2L341.5 464.2L342 464.2L342.5 464.2L343 464.2L343.5 464.2L344 464.2L344.5 464.2L345 464.2L345.5 464.2L346 464.2L346.5 464.2L347 464.2L347.5 464.2L348 464.2L348.5 464.2L349 464.2L349.5 464.2L350 464.2L350.5 464.2L351 464.2L351.5 464.2L352 464.2L352.5 464.2L353 464.2L353.5 464.2L354 464.2L354.5 464.2L355 464.2L355.5 464.2L356 464.2L356.5 464.2L357 464.2L357.5 464.2L358 464.2L358.5 464.2L359 464.2L359.5 464.2L360 464.2L360.5 464.2L361 464.2L361.5 464.2L362 464.2L362.5 464.2L363 464.2L363.5 464.2L364 464.2L364.5 464.2L365 464.2L365.5 464.2L366 464.2L366.5 464.2L367 464.2L367.5 464.2L368 464.2L368.5 464.2L369 464.2L369.5 464.2L370 464.2L370.5 464.2L371 464.2L371.5 464.2L372 464.2L372.5 464.2L373 464.2L373.5 464.2L374 464.2L374.5 464.2L375 464.2L375.5 464.2L376 464.2L376.5 464.2L377 464.2L377.5 464.2L378 464.2L378.5 464.2L379 464.2L379.5 464.2L380 464.2L380.5 464.2L381 464.2L381.5 464.2L382 464.2L382.5 464.2L383 464.2L383.5 464.2L384 464.2L384.5 464.2L385 464.2L385 464.2Z" fill="url(#g1b)"/>
<path d="M258 464.2L258 464.2L258.5 464.2L259 464.2L259.5 464.2L260 464.2L260.5 464.2L261 464.2L261.5 464.2L262 464.2L262.5 464.2L263 464.2L263.5 464.2L264 464.2L264.5 464.2L265 464.2L265.5 464.2L266 464.2L266.5 464.2L267 464.2L267.5 464.2L268 464.2L268.5 464.2L269 464.2L269.5 464.2L270 464.2L270.5 464.2L271 464.2L271.5 464.2L272 464.2L272.5 464.1L273 464.1L273.5 464.1L274 464.1L274.5 464.1L275 464.1L275.5 464.1L276 464.1L276.5 464.1L277 464L277.5 464L278 464L278.5 464L279 464L279.5 463.9L280 463.9L280.5 463.9L281 463.8L281.5 463.8L282 463.8L282.5 463.7L283 463.7L283.5 463.6L284 463.6L284.5 463.5L285 463.4L285.5 463.4L286 463.3L286.5 463.2L287 463.1L287.5 463L288 462.9L288.5 462.8L289 462.7L289.5 462.5L290 462.4L290.5 462.2L291 462.1L291.5 461.9L292 461.7L292.5 461.6L293 461.4L293.5 461.1L294 460.9L294.5 460.7L295 460.4L295.5 460.2L296 459.9L296.5 459.6L297 459.3L297.5 459L298 458.7L298.5 458.3L299 458L299.5 457.6L300 457.2L300.5 456.8L301 456.4L301.5 456L302 455.5L302.5 455.1L303 454.6L303.5 454.2L304 453.7L304.5 453.2L305 452.7L305.5 452.2L306 451.6L306.5 451.1L307 450.6L307.5 450.1L308 449.5L308.5 449L309 448.4L309.5 447.9L310 447.3L310.5 446.8L311 446.3L311.5 445.7L312 445.2L312.5 444.7L313 444.2L313.5 443.7L314 443.2L314.5 442.8L315 442.3L315.5 441.9L316 441.5L316.5 441.1L317 440.7L317.5 440.3L318 440L318.5 439.7L319 439.4L319.5 439.2L320 438.9L320.5 438.8L321 438.6L321.5 438.4L322 438.3L322.5 438.3L323 438.2L323.5 438.2L324 438.2L324.5 438.3L325 438.3L325.5 438.4L326 438.5L326.5 438.7L327 438.8L327.5 439L328 439.2L328.5 439.4L329 439.7L329.5 440L330 440.3L330.5 440.6L331 440.9L331.5 441.3L332 441.6L332.5 442L333 442.4L333.5 442.8L334 443.2L334.5 443.7L335 444.1L335.5 444.6L336 445L336.5 445.5L337 446L337.5 446.5L338 447L338.5 447.4L339 447.9L339.5 448.4L340 448.9L340.5 449.4L341 449.9L341.5 450.4L342 450.9L342.5 451.4L343 451.8L343.5 452.3L344 452.8L344.5 453.2L345 453.7L345.5 454.1L346 454.5L346.5 454.9L347 455.4L347.5 455.8L348 456.1L348.5 456.5L349 456.9L349.5 457.3L350 457.6L350.5 457.9L351 458.3L351.5 458.6L352 458.9L352.5 459.2L353 459.4L353.5 459.7L354 460L354.5 460.2L355 460.5L355.5 460.7L356 460.9L356.5 461.1L357 461.3L357.5 461.5L358 461.7L358.5 461.8L359 462L359.5 462.1L360 462.3L360.5 462.4L361 462.5L361.5 462.7L362 462.8L362.5 462.9L363 463L363.5 463.1L364 463.1L364.5 463.2L365 463.3L365.5 463.4L366 463.4L366.5 463.5L367 463.6L367.5 463.6L368 463.7L368.5 463.7L369 463.7L369.5 463.8L370 463.8L370.5 463.9L371 463.9L371.5 463.9L372 463.9L372.5 464L373 464L373.5 464L374 464L374.5 464L375 464.1L375.5 464.1L376 464.1L376.5 464.1L377 464.1L377.5 464.1L378 464.1L378.5 464.1L379 464.1L379.5 464.1L380 464.1L380.5 464.2L381 464.2L381.5 464.2L382 464.2L382.5 464.2L383 464.2L383.5 464.2L384 464.2L384.5 464.2L385 464.2L385 464.2Z" fill="url(#g2b)"/>
<path d="M258 464.2L258 464.2L258.5 464.2L259 464.2L259.5 464.2L260 464.2L260.5 464.2L261 464.2L261.5 464.2L262 464.2L262.5 464.2L263 464.2L263.5 464.2L264 464.2L264.5 464.2L265 464.2L265.5 464.2L266 464.2L266.5 464.2L267 464.2L267.5 464.2L268 464.2L268.5 464.2L269 464.2L269.5 464.2L270 464.2L270.5 464.2L271 464.2L271.5 464.2L272 464.2L272.5 464.1L273 464.1L273.5 464.1L274 464.1L274.5 464.1L275 464.1L275.5 464.1L276 464.1L276.5 464.1L277 464L277.5 464L278 464L278.5 464L279 464L279.5 463.9L280 463.9L280.5 463.9L281 463.8L281.5 463.8L282 463.8L282.5 463.7L283 463.7L283.5 463.6L284 463.6L284.5 463.5L285 463.4L285.5 463.4L286 463.3L286.5 463.2L287 463.1L287.5 463L288 462.9L288.5 462.8L289 462.7L289.5 462.5L290 462.4L290.5 462.2L291 462.1L291.5 461.9L292 461.7L292.5 461.6L293 461.4L293.5 461.1L294 460.9L294.5 460.7L295 460.4L295.5 460.2L296 459.9L296.5 459.6L297 459.3L297.5 459L298 458.7L298.5 458.3L299 458L299.5 457.6L300 457.2L300.5 456.8L301 456.4L301.5 456L302 455.5L302.5 455.1L303 454.6L303.5 454.2L304 453.7L304.5 453.2L305 452.7L305.5 452.2L306 451.6L306.5 451.1L307 450.6L307.5 450.1L308 449.5L308.5 449L309 448.4L309.5 447.9L310 447.3L310.5 446.8L311 446.3L311.5 446.7L312 448.9L312.5 450.9L313 452.6L313.5 454.2L314 455.6L314.5 456.8L315 457.9L315.5 458.8L316 459.7L316.5 460.4L317 461L317.5 461.5L318 462L318.5 462.4L319 462.7L319.5 463L320 463.2L320.5 463.4L321 463.5L321.5 463.7L322 463.8L322.5 463.9L323 463.9L323.5 464L324 464L324.5 464.1L325 464.1L325.5 464.1L326 464.1L326.5 464.2L327 464.2L327.5 464.2L328 464.2L328.5 464.2L329 464.2L329.5 464.2L330 464.2L330.5 464.2L331 464.2L331.5 464.2L332 464.2L332.5 464.2L333 464.2L333.5 464.2L334 464.2L334.5 464.2L335 464.2L335.5 464.2L336 464.2L336.5 464.2L337 464.2L337.5 464.2L338 464.2L338.5 464.2L339 464.2L339.5 464.2L340 464.2L340.5 464.2L341 464.2L341.5 464.2L342 464.2L342.5 464.2L343 464.2L343.5 464.2L344 464.2L344.5 464.2L345 464.2L345.5 464.2L346 464.2L346.5 464.2L347 464.2L347.5 464.2L348 464.2L348.5 464.2L349 464.2L349.5 464.2L350 464.2L350.5 464.2L351 464.2L351.5 464.2L352 464.2L352.5 464.2L353 464.2L353.5 464.2L354 464.2L354.5 464.2L355 464.2L355.5 464.2L356 464.2L356.5 464.2L357 464.2L357.5 464.2L358 464.2L358.5 464.2L359 464.2L359.5 464.2L360 464.2L360.5 464.2L361 464.2L361.5 464.2L362 464.2L362.5 464.2L363 464.2L363.5 464.2L364 464.2L364.5 464.2L365 464.2L365.5 464.2L366 464.2L366.5 464.2L367 464.2L367.5 464.2L368 464.2L368.5 464.2L369 464.2L369.5 464.2L370 464.2L370.5 464.2L371 464.2L371.5 464.2L372 464.2L372.5 464.2L373 464.2L373.5 464.2L374 464.2L374.5 464.2L375 464.2L375.5 464.2L376 464.2L376.5 464.2L377 464.2L377.5 464.2L378 464.2L378.5 464.2L379 464.2L379.5 464.2L380 464.2L380.5 464.2L381 464.2L381.5 464.2L382 464.2L382.5 464.2L383 464.2L383.5 464.2L384 464.2L384.5 464.2L385 464.2L385 464.2Z" fill="url(#ov1b)"/>
<path d="M258 464L258.5 464L259 464L259.5 463.9L260 463.9L260.5 463.8L261 463.8L261.5 463.7L262 463.6L262.5 463.5L263 463.4L263.5 463.2L264 463.1L264.5 462.9L265 462.7L265.5 462.4L266 462.2L266.5 461.8L267 461.5L267.5 461.1L268 460.6L268.5 460.1L269 459.5L269.5 458.9L270 458.2L270.5 457.4L271 456.5L271.5 455.5L272 454.4L272.5 453.2L273 451.9L273.5 450.4L274 448.8L274.5 447.1L275 445.2L275.5 443.2L276 441L276.5 438.6L277 436.1L277.5 433.3L278 430.4L278.5 427.4L279 424.1L279.5 420.6L280 417L280.5 413.2L281 409.2L281.5 405L282 400.8L282.5 396.3L283 391.8L283.5 387.1L284 382.3L284.5 377.5L285 372.6L285.5 367.8L286 362.9L286.5 358.1L287 353.3L287.5 348.7L288 344.2L288.5 339.8L289 335.7L289.5 331.9L290 328.3L290.5 325.1L291 322.2L291.5 319.7L292 317.7L292.5 316.1L293 315.1L293.5 314.7L294 314.8L294.5 315.1L295 315.7L295.5 316.6L296 317.8L296.5 319.3L297 321.1L297.5 323.3L298 325.8L298.5 328.5L299 331.6L299.5 334.9L300 338.4L300.5 342.2L301 346.2L301.5 350.4L302 354.7L302.5 359.1L303 363.6L303.5 368.2L304 372.8L304.5 377.4L305 382L305.5 386.5L306 390.9L306.5 395.2L307 399.4L307.5 403.4L308 407.2L308.5 410.8L309 414.3L309.5 417.5L310 420.4L310.5 423.2L311 425.6L311.5 427.9L312 429.8L312.5 431.6L313 433.1L313.5 434.4L314 435.4L314.5 436.3L315 437L315.5 437.6L316 438L316.5 438.2L317 438.4L317.5 438.6L318 438.6L318.5 438.6L319 438.6L319.5 438.5L320 438.4L320.5 438.4L321 438.3L321.5 438.2L322 438.2L322.5 438.1L323 438.1L323.5 438.1L324 438.2L324.5 438.2L325 438.3L325.5 438.4L326 438.5L326.5 438.6L327 438.8L327.5 439L328 439.2L328.5 439.4L329 439.7L329.5 440L330 440.3L330.5 440.6L331 440.9L331.5 441.3L332 441.6L332.5 442L333 442.4L333.5 442.8L334 443.2L334.5 443.7L335 444.1L335.5 444.6L336 445L336.5 445.5L337 446L337.5 446.5L338 447L338.5 447.4L339 447.9L339.5 448.4L340 448.9L340.5 449.4L341 449.9L341.5 450.4L342 450.9L342.5 451.4L343 451.8L343.5 452.3L344 452.8L344.5 453.2L345 453.7L345.5 454.1L346 454.5L346.5 454.9L347 455.4L347.5 455.8L348 456.1L348.5 456.5L349 456.9L349.5 457.3L350 457.6L350.5 457.9L351 458.3L351.5 458.6L352 458.9L352.5 459.2L353 459.4L353.5 459.7L354 460L354.5 460.2L355 460.5L355.5 460.7L356 460.9L356.5 461.1L357 461.3L357.5 461.5L358 461.7L358.5 461.8L359 462L359.5 462.1L360 462.3L360.5 462.4L361 462.5L361.5 462.7L362 462.8L362.5 462.9L363 463L363.5 463.1L364 463.1L364.5 463.2L365 463.3L365.5 463.4L366 463.4L366.5 463.5L367 463.6L367.5 463.6L368 463.7L368.5 463.7L369 463.7L369.5 463.8L370 463.8L370.5 463.9L371 463.9L371.5 463.9L372 463.9L372.5 464L373 464L373.5 464L374 464L374.5 464L375 464.1L375.5 464.1L376 464.1L376.5 464.1L377 464.1L377.5 464.1L378 464.1L378.5 464.1L379 464.1L379.5 464.1L380 464.1L380.5 464.2L381 464.2L381.5 464.2L382 464.2L382.5 464.2L383 464.2L383.5 464.2L384 464.2L384.5 464.2L385 464.2" fill="none" stroke="#fff" stroke-width="2.2" stroke-opacity="0.0"/>
<path d="M258 464L258.5 464L259 464L259.5 463.9L260 463.9L260.5 463.8L261 463.8L261.5 463.7L262 463.6L262.5 463.5L263 463.4L263.5 463.2L264 463.1L264.5 462.9L265 462.7L265.5 462.4L266 462.2L266.5 461.8L267 461.5L267.5 461.1L268 460.6L268.5 460.1L269 459.5L269.5 458.9L270 458.2L270.5 457.4L271 456.5L271.5 455.5L272 454.4L272.5 453.2L273 451.9L273.5 450.4L274 448.8L274.5 447.1L275 445.2L275.5 443.2L276 441L276.5 438.6L277 436.1L277.5 433.3L278 430.4L278.5 427.4L279 424.1L279.5 420.6L280 417L280.5 413.2L281 409.2L281.5 405L282 400.8L282.5 396.3L283 391.8L283.5 387.1L284 382.3L284.5 377.5L285 372.6L285.5 367.8L286 362.9L286.5 358.1L287 353.3L287.5 348.7L288 344.2L288.5 339.8L289 335.7L289.5 331.9L290 328.3L290.5 325.1L291 322.2L291.5 319.7L292 317.7L292.5 316.1L293 315.1L293.5 314.7L294 314.8L294.5 315.1L295 315.7L295.5 316.6L296 317.8L296.5 319.3L297 321.1L297.5 323.3L298 325.8L298.5 328.5L299 331.6L299.5 334.9L300 338.4L300.5 342.2L301 346.2L301.5 350.4L302 354.7L302.5 359.1L303 363.6L303.5 368.2L304 372.8L304.5 377.4L305 382L305.5 386.5L306 390.9L306.5 395.2L307 399.4L307.5 403.4L308 407.2L308.5 410.8L309 414.3L309.5 417.5L310 420.4L310.5 423.2L311 425.6L311.5 427.9L312 429.8L312.5 431.6L313 433.1L313.5 434.4L314 435.4L314.5 436.3L315 437L315.5 437.6L316 438L316.5 438.2L317 438.4L317.5 438.6L318 438.6L318.5 438.6L319 438.6L319.5 438.5L320 438.4L320.5 438.4L321 438.3L321.5 438.2L322 438.2L322.5 438.1L323 438.1L323.5 438.1L324 438.2L324.5 438.2L325 438.3L325.5 438.4L326 438.5L326.5 438.6L327 438.8L327.5 439L328 439.2L328.5 439.4L329 439.7L329.5 440L330 440.3L330.5 440.6L331 440.9L331.5 441.3L332 441.6L332.5 442L333 442.4L333.5 442.8L334 443.2L334.5 443.7L335 444.1L335.5 444.6L336 445L336.5 445.5L337 446L337.5 446.5L338 447L338.5 447.4L339 447.9L339.5 448.4L340 448.9L340.5 449.4L341 449.9L341.5 450.4L342 450.9L342.5 451.4L343 451.8L343.5 452.3L344 452.8L344.5 453.2L345 453.7L345.5 454.1L346 454.5L346.5 454.9L347 455.4L347.5 455.8L348 456.1L348.5 456.5L349 456.9L349.5 457.3L350 457.6L350.5 457.9L351 458.3L351.5 458.6L352 458.9L352.5 459.2L353 459.4L353.5 459.7L354 460L354.5 460.2L355 460.5L355.5 460.7L356 460.9L356.5 461.1L357 461.3L357.5 461.5L358 461.7L358.5 461.8L359 462L359.5 462.1L360 462.3L360.5 462.4L361 462.5L361.5 462.7L362 462.8L362.5 462.9L363 463L363.5 463.1L364 463.1L364.5 463.2L365 463.3L365.5 463.4L366 463.4L366.5 463.5L367 463.6L367.5 463.6L368 463.7L368.5 463.7L369 463.7L369.5 463.8L370 463.8L370.5 463.9L371 463.9L371.5 463.9L372 463.9L372.5 464L373 464L373.5 464L374 464L374.5 464L375 464.1L375.5 464.1L376 464.1L376.5 464.1L377 464.1L377.5 464.1L378 464.1L378.5 464.1L379 464.1L379.5 464.1L380 464.1L380.5 464.2L381 464.2L381.5 464.2L382 464.2L382.5 464.2L383 464.2L383.5 464.2L384 464.2L384.5 464.2L385 464.2" fill="none" stroke="#111" stroke-width="1.25"/>
<line x1="0" y1="464.2" x2="382" y2="464.2" stroke="#222" stroke-width="1"/>
<line x1="444.4" y1="222.4" x2="444.4" y2="343.8" stroke="#222" stroke-width="1"/>
<line x1="443.9" y1="343.3" x2="626" y2="343.3" stroke="#222" stroke-width="1"/>
<line x1="440.8" y1="343.3" x2="444.4" y2="343.3" stroke="#222" stroke-width="1"/>
<text x="436.5" y="346.9" font-size="10.5" text-anchor="end">0</text>
<line x1="440.8" y1="286.1" x2="444.4" y2="286.1" stroke="#222" stroke-width="1"/>
<text x="436.5" y="289.7" font-size="10.5" text-anchor="end">50</text>
<line x1="440.8" y1="228.8" x2="444.4" y2="228.8" stroke="#222" stroke-width="1"/>
<text x="436.5" y="232.4" font-size="10.5" text-anchor="end">100</text>
<rect x="458.1" y="229.9" width="28.4" height="11.5" fill="#e5343d"/>
<rect x="458.1" y="240.8" width="28.4" height="20.1" fill="#f0581a"/>
<rect x="458.1" y="260.3" width="28.4" height="83" fill="#1b1f6a"/>
<line x1="472.3" y1="260.3" x2="472.3" y2="254.6" stroke="#111" stroke-width="1.2"/>
<line x1="465.3" y1="254.6" x2="479.3" y2="254.6" stroke="#111" stroke-width="1.3"/>
<line x1="472.3" y1="240.8" x2="472.3" y2="237.8" stroke="#111" stroke-width="1.2"/>
<line x1="465.3" y1="237.8" x2="479.3" y2="237.8" stroke="#111" stroke-width="1.3"/>
<line x1="472.3" y1="229.9" x2="472.3" y2="228.8" stroke="#111" stroke-width="1.2"/>
<line x1="465.3" y1="228.8" x2="479.3" y2="228.8" stroke="#111" stroke-width="1.3"/>
<line x1="472.3" y1="343.3" x2="472.3" y2="347.3" stroke="#222" stroke-width="1"/>
<text transform="translate(476.1 351.5) rotate(-90)" font-size="11" text-anchor="end" class="rt">Control</text>
<rect x="500.1" y="228.8" width="28.3" height="14.9" fill="#e5343d"/>
<rect x="500.1" y="243.1" width="28.3" height="50.4" fill="#f0581a"/>
<rect x="500.1" y="292.9" width="28.3" height="50.4" fill="#1b1f6a"/>
<line x1="514.2" y1="292.9" x2="514.2" y2="286.6" stroke="#111" stroke-width="1.2"/>
<line x1="507.2" y1="286.6" x2="521.2" y2="286.6" stroke="#111" stroke-width="1.3"/>
<line x1="514.2" y1="243.1" x2="514.2" y2="240.8" stroke="#111" stroke-width="1.2"/>
<line x1="507.2" y1="240.8" x2="521.2" y2="240.8" stroke="#111" stroke-width="1.3"/>
<line x1="514.2" y1="228.8" x2="514.2" y2="227.7" stroke="#111" stroke-width="1.2"/>
<line x1="507.2" y1="227.7" x2="521.2" y2="227.7" stroke="#111" stroke-width="1.3"/>
<line x1="514.2" y1="343.3" x2="514.2" y2="347.3" stroke="#222" stroke-width="1"/>
<text transform="translate(518 351.5) rotate(-90)" font-size="11" text-anchor="end" class="rt">0.1 <tspan font-style="italic">μM</tspan> DDTC</text>
<rect x="542" y="231.1" width="28.3" height="16.1" fill="#e5343d"/>
<rect x="542" y="246.5" width="28.3" height="39" fill="#f0581a"/>
<rect x="542" y="284.9" width="28.3" height="58.4" fill="#1b1f6a"/>
<line x1="556.1" y1="284.9" x2="556.1" y2="280.9" stroke="#111" stroke-width="1.2"/>
<line x1="549.1" y1="280.9" x2="563.1" y2="280.9" stroke="#111" stroke-width="1.3"/>
<line x1="556.1" y1="246.5" x2="556.1" y2="244.8" stroke="#111" stroke-width="1.2"/>
<line x1="549.1" y1="244.8" x2="563.1" y2="244.8" stroke="#111" stroke-width="1.3"/>
<line x1="556.1" y1="231.1" x2="556.1" y2="229.9" stroke="#111" stroke-width="1.2"/>
<line x1="549.1" y1="229.9" x2="563.1" y2="229.9" stroke="#111" stroke-width="1.3"/>
<line x1="556.1" y1="343.3" x2="556.1" y2="347.3" stroke="#222" stroke-width="1"/>
<text transform="translate(559.9 351.5) rotate(-90)" font-size="11" text-anchor="end" class="rt">1 <tspan font-style="italic">μM</tspan> DDTC</text>
<rect x="583.7" y="229.9" width="28.3" height="31.5" fill="#e5343d"/>
<rect x="583.7" y="260.9" width="28.3" height="0.6" fill="#f0581a"/>
<rect x="583.7" y="260.9" width="28.3" height="82.4" fill="#1b1f6a"/>
<line x1="597.9" y1="260.9" x2="597.9" y2="252.8" stroke="#111" stroke-width="1.2"/>
<line x1="590.9" y1="252.8" x2="604.9" y2="252.8" stroke="#111" stroke-width="1.3"/>
<line x1="597.9" y1="229.9" x2="597.9" y2="227.7" stroke="#111" stroke-width="1.2"/>
<line x1="590.9" y1="227.7" x2="604.9" y2="227.7" stroke="#111" stroke-width="1.3"/>
<line x1="597.9" y1="343.3" x2="597.9" y2="347.3" stroke="#222" stroke-width="1"/>
<text transform="translate(601.6 351.5) rotate(-90)" font-size="11" text-anchor="end" class="rt">10 <tspan font-style="italic">μM</tspan> DDTC</text>
<text transform="translate(404.6 282) rotate(-90)" font-size="11" text-anchor="middle" class="rt">DNA content (%)</text>
<text transform="translate(417.3 282) rotate(-90)" font-size="11" text-anchor="middle" class="rt">in the SKOV3 cells</text>
<line x1="249.3" y1="510.6" x2="249.3" y2="639" stroke="#222" stroke-width="1"/>
<line x1="248.8" y1="638.5" x2="427.5" y2="638.5" stroke="#222" stroke-width="1"/>
<line x1="245.7" y1="638.5" x2="249.3" y2="638.5" stroke="#222" stroke-width="1"/>
<text x="242.6" y="642.1" font-size="10.5" text-anchor="end">0</text>
<line x1="245.7" y1="580.5" x2="249.3" y2="580.5" stroke="#222" stroke-width="1"/>
<text x="242.6" y="584.1" font-size="10.5" text-anchor="end">50</text>
<line x1="245.7" y1="522.4" x2="249.3" y2="522.4" stroke="#222" stroke-width="1"/>
<text x="242.6" y="526" font-size="10.5" text-anchor="end">100</text>
<rect x="262" y="522.4" width="28.3" height="12.2" fill="#e5343d"/>
<rect x="262" y="534" width="28.3" height="37.8" fill="#f0581a"/>
<rect x="262" y="571.2" width="28.3" height="67.3" fill="#1b1f6a"/>
<line x1="276.1" y1="571.2" x2="276.1" y2="565.9" stroke="#111" stroke-width="1.2"/>
<line x1="269.1" y1="565.9" x2="283.1" y2="565.9" stroke="#111" stroke-width="1.3"/>
<line x1="276.1" y1="534" x2="276.1" y2="530.5" stroke="#111" stroke-width="1.2"/>
<line x1="269.1" y1="530.5" x2="283.1" y2="530.5" stroke="#111" stroke-width="1.3"/>
<line x1="276.1" y1="522.4" x2="276.1" y2="521.2" stroke="#111" stroke-width="1.2"/>
<line x1="269.1" y1="521.2" x2="283.1" y2="521.2" stroke="#111" stroke-width="1.3"/>
<line x1="276.1" y1="638.5" x2="276.1" y2="642.5" stroke="#222" stroke-width="1"/>
<text transform="translate(279.9 647.1) rotate(-90)" font-size="11" text-anchor="end" class="rt">Control</text>
<rect x="303.5" y="522.4" width="28.3" height="14" fill="#e5343d"/>
<rect x="303.5" y="535.8" width="28.3" height="30.2" fill="#f0581a"/>
<rect x="303.5" y="565.4" width="28.3" height="73.1" fill="#1b1f6a"/>
<line x1="317.6" y1="565.4" x2="317.6" y2="559" stroke="#111" stroke-width="1.2"/>
<line x1="310.6" y1="559" x2="324.6" y2="559" stroke="#111" stroke-width="1.3"/>
<line x1="317.6" y1="535.8" x2="317.6" y2="534" stroke="#111" stroke-width="1.2"/>
<line x1="310.6" y1="534" x2="324.6" y2="534" stroke="#111" stroke-width="1.3"/>
<line x1="317.6" y1="522.4" x2="317.6" y2="521.2" stroke="#111" stroke-width="1.2"/>
<line x1="310.6" y1="521.2" x2="324.6" y2="521.2" stroke="#111" stroke-width="1.3"/>
<line x1="317.6" y1="638.5" x2="317.6" y2="642.5" stroke="#222" stroke-width="1"/>
<text transform="translate(321.4 647.1) rotate(-90)" font-size="11" text-anchor="end" class="rt">0.1 <tspan font-style="italic">μM</tspan> DDTC</text>
<rect x="344.8" y="534" width="28.3" height="16.3" fill="#e5343d"/>
<rect x="344.8" y="549.7" width="28.3" height="27.9" fill="#f0581a"/>
<rect x="344.8" y="577" width="28.3" height="61.5" fill="#1b1f6a"/>
<line x1="358.9" y1="577" x2="358.9" y2="572.9" stroke="#111" stroke-width="1.2"/>
<line x1="351.9" y1="572.9" x2="365.9" y2="572.9" stroke="#111" stroke-width="1.3"/>
<line x1="358.9" y1="549.7" x2="358.9" y2="547.9" stroke="#111" stroke-width="1.2"/>
<line x1="351.9" y1="547.9" x2="365.9" y2="547.9" stroke="#111" stroke-width="1.3"/>
<line x1="358.9" y1="534" x2="358.9" y2="532.8" stroke="#111" stroke-width="1.2"/>
<line x1="351.9" y1="532.8" x2="365.9" y2="532.8" stroke="#111" stroke-width="1.3"/>
<line x1="358.9" y1="638.5" x2="358.9" y2="642.5" stroke="#222" stroke-width="1"/>
<text transform="translate(362.8 647.1) rotate(-90)" font-size="11" text-anchor="end" class="rt">1 <tspan font-style="italic">μM</tspan> DDTC</text>
<rect x="386.1" y="522.4" width="28.3" height="31.3" fill="#e5343d"/>
<rect x="386.1" y="553.1" width="28.3" height="1.3" fill="#f0581a"/>
<rect x="386.1" y="553.7" width="28.3" height="84.8" fill="#1b1f6a"/>
<line x1="400.2" y1="553.7" x2="400.2" y2="545.7" stroke="#111" stroke-width="1.2"/>
<line x1="393.2" y1="545.7" x2="407.2" y2="545.7" stroke="#111" stroke-width="1.3"/>
<line x1="400.2" y1="553.1" x2="400.2" y2="552" stroke="#111" stroke-width="1.2"/>
<line x1="393.2" y1="552" x2="407.2" y2="552" stroke="#111" stroke-width="1.3"/>
<line x1="400.2" y1="522.4" x2="400.2" y2="520.1" stroke="#111" stroke-width="1.2"/>
<line x1="393.2" y1="520.1" x2="407.2" y2="520.1" stroke="#111" stroke-width="1.3"/>
<line x1="400.2" y1="638.5" x2="400.2" y2="642.5" stroke="#222" stroke-width="1"/>
<text transform="translate(404.1 647.1) rotate(-90)" font-size="11" text-anchor="end" class="rt">10 <tspan font-style="italic">μM</tspan> DDTC</text>
<text transform="translate(209 580.5) rotate(-90)" font-size="11" text-anchor="middle" class="rt">DNA content (%)</text>
<text transform="translate(222.8 580.5) rotate(-90)" font-size="11" text-anchor="middle" class="rt">in the A2780 cells</text>
<rect x="444" y="433.1" width="17.6" height="7.8" fill="#e5343d"/>
<text x="466" y="440.7" font-size="10.5" text-anchor="start">G2</text>
<rect x="444" y="452" width="17.6" height="7.8" fill="#f0581a"/>
<text x="466" y="459.6" font-size="10.5" text-anchor="start">S</text>
<rect x="444" y="470.8" width="17.6" height="7.8" fill="#1b1f6a"/>
<text x="466" y="478.4" font-size="10.5" text-anchor="start">G1</text>
<rect x="248" y="726" width="17.6" height="7.8" fill="#e5343d"/>
<text x="270" y="733.6" font-size="10.5" text-anchor="start">G2</text>
<rect x="248" y="744.7" width="17.6" height="7.8" fill="#f0581a"/>
<text x="270" y="752.3" font-size="10.5" text-anchor="start">S</text>
<rect x="248" y="763.5" width="17.6" height="7.8" fill="#1b1f6a"/>
<text x="270" y="771.1" font-size="10.5" text-anchor="start">G1</text>
<text x="148.5" y="8.2" font-size="11" text-anchor="middle">Control</text>
<text x="233.3" y="8.2" font-size="11" text-anchor="middle">0.1 <tspan font-style="italic">μM</tspan><tspan dx="2.8"> DDTC</tspan></text>
<text x="316" y="8.2" font-size="11" text-anchor="middle">1 <tspan font-style="italic">μM</tspan> DDTC</text>
<text x="416" y="8.2" font-size="11" text-anchor="middle">10 <tspan font-style="italic">μM</tspan> DDTC</text>
<text x="144.8" y="28" font-size="10" text-anchor="middle" class="lb">G1</text>
<text x="230.8" y="25" font-size="10" text-anchor="middle" class="lb">G1</text>
<text x="312.2" y="25" font-size="10" text-anchor="middle" class="lb">G1</text>
<text x="418" y="21.5" font-size="10" text-anchor="middle" class="lb">G1</text>
<text x="189" y="164.5" font-size="10" text-anchor="middle" class="lb">G2</text>
<text x="267" y="157.6" font-size="10" text-anchor="middle" class="lb">G2</text>
<text x="362.7" y="154.5" font-size="10" text-anchor="middle" class="lb">G2</text>
<text x="453.3" y="145.5" font-size="10" text-anchor="middle" class="lb">G2</text>
<text x="163.5" y="170.2" font-size="10" text-anchor="middle" class="lb">S</text>
<text x="243.9" y="157.8" font-size="10" text-anchor="middle" class="lb">S</text>
<text x="330.7" y="162.5" font-size="10" text-anchor="middle" class="lb">S</text>
<text x="310" y="189.5" font-size="11" text-anchor="middle">DNA content in the SKOV3 cells</text>
<text x="311" y="211.5" font-size="11" text-anchor="middle">(a)</text>
<text x="18" y="303.6" font-size="11" text-anchor="middle">Control</text>
<text x="102.9" y="303.6" font-size="11" text-anchor="middle">0.1 <tspan font-style="italic">μM</tspan><tspan dx="1.4"> DDTC</tspan></text>
<text x="202" y="303.6" font-size="11" text-anchor="middle">1 <tspan font-style="italic">μM</tspan> DDTC</text>
<text x="296" y="304" font-size="11" text-anchor="middle">10 <tspan font-style="italic">μM</tspan> DDTC</text>
<text x="21.2" y="322" font-size="10" text-anchor="middle" class="lb">G1</text>
<text x="112" y="322" font-size="10" text-anchor="middle" class="lb">G1</text>
<text x="202.7" y="319.6" font-size="10" text-anchor="middle" class="lb">G1</text>
<text x="300" y="317" font-size="10" text-anchor="middle" class="lb">G1</text>
<text x="55.5" y="453.5" font-size="10" text-anchor="middle" class="lb">G2</text>
<text x="151.7" y="450.3" font-size="10" text-anchor="middle" class="lb">G2</text>
<text x="239.5" y="446.3" font-size="10" text-anchor="middle" class="lb">G2</text>
<text x="333.4" y="440.2" font-size="10" text-anchor="middle" class="lb">G2</text>
<text x="32" y="457.5" font-size="10" text-anchor="middle" class="lb">S</text>
<text x="119.3" y="459.9" font-size="10" text-anchor="middle" class="lb">S</text>
<text x="211.5" y="457.5" font-size="10" text-anchor="middle" class="lb">S</text>
<text x="193" y="479" font-size="11" text-anchor="middle">DNA content in the A2780 cells</text>
<text x="188.3" y="499.5" font-size="11" text-anchor="middle">(b)</text>
<text x="508.3" y="499.4" font-size="11" text-anchor="middle">(c)</text>
<text x="311.3" y="792.8" font-size="11" text-anchor="middle">(d)</text>
</svg>
</body></html>
